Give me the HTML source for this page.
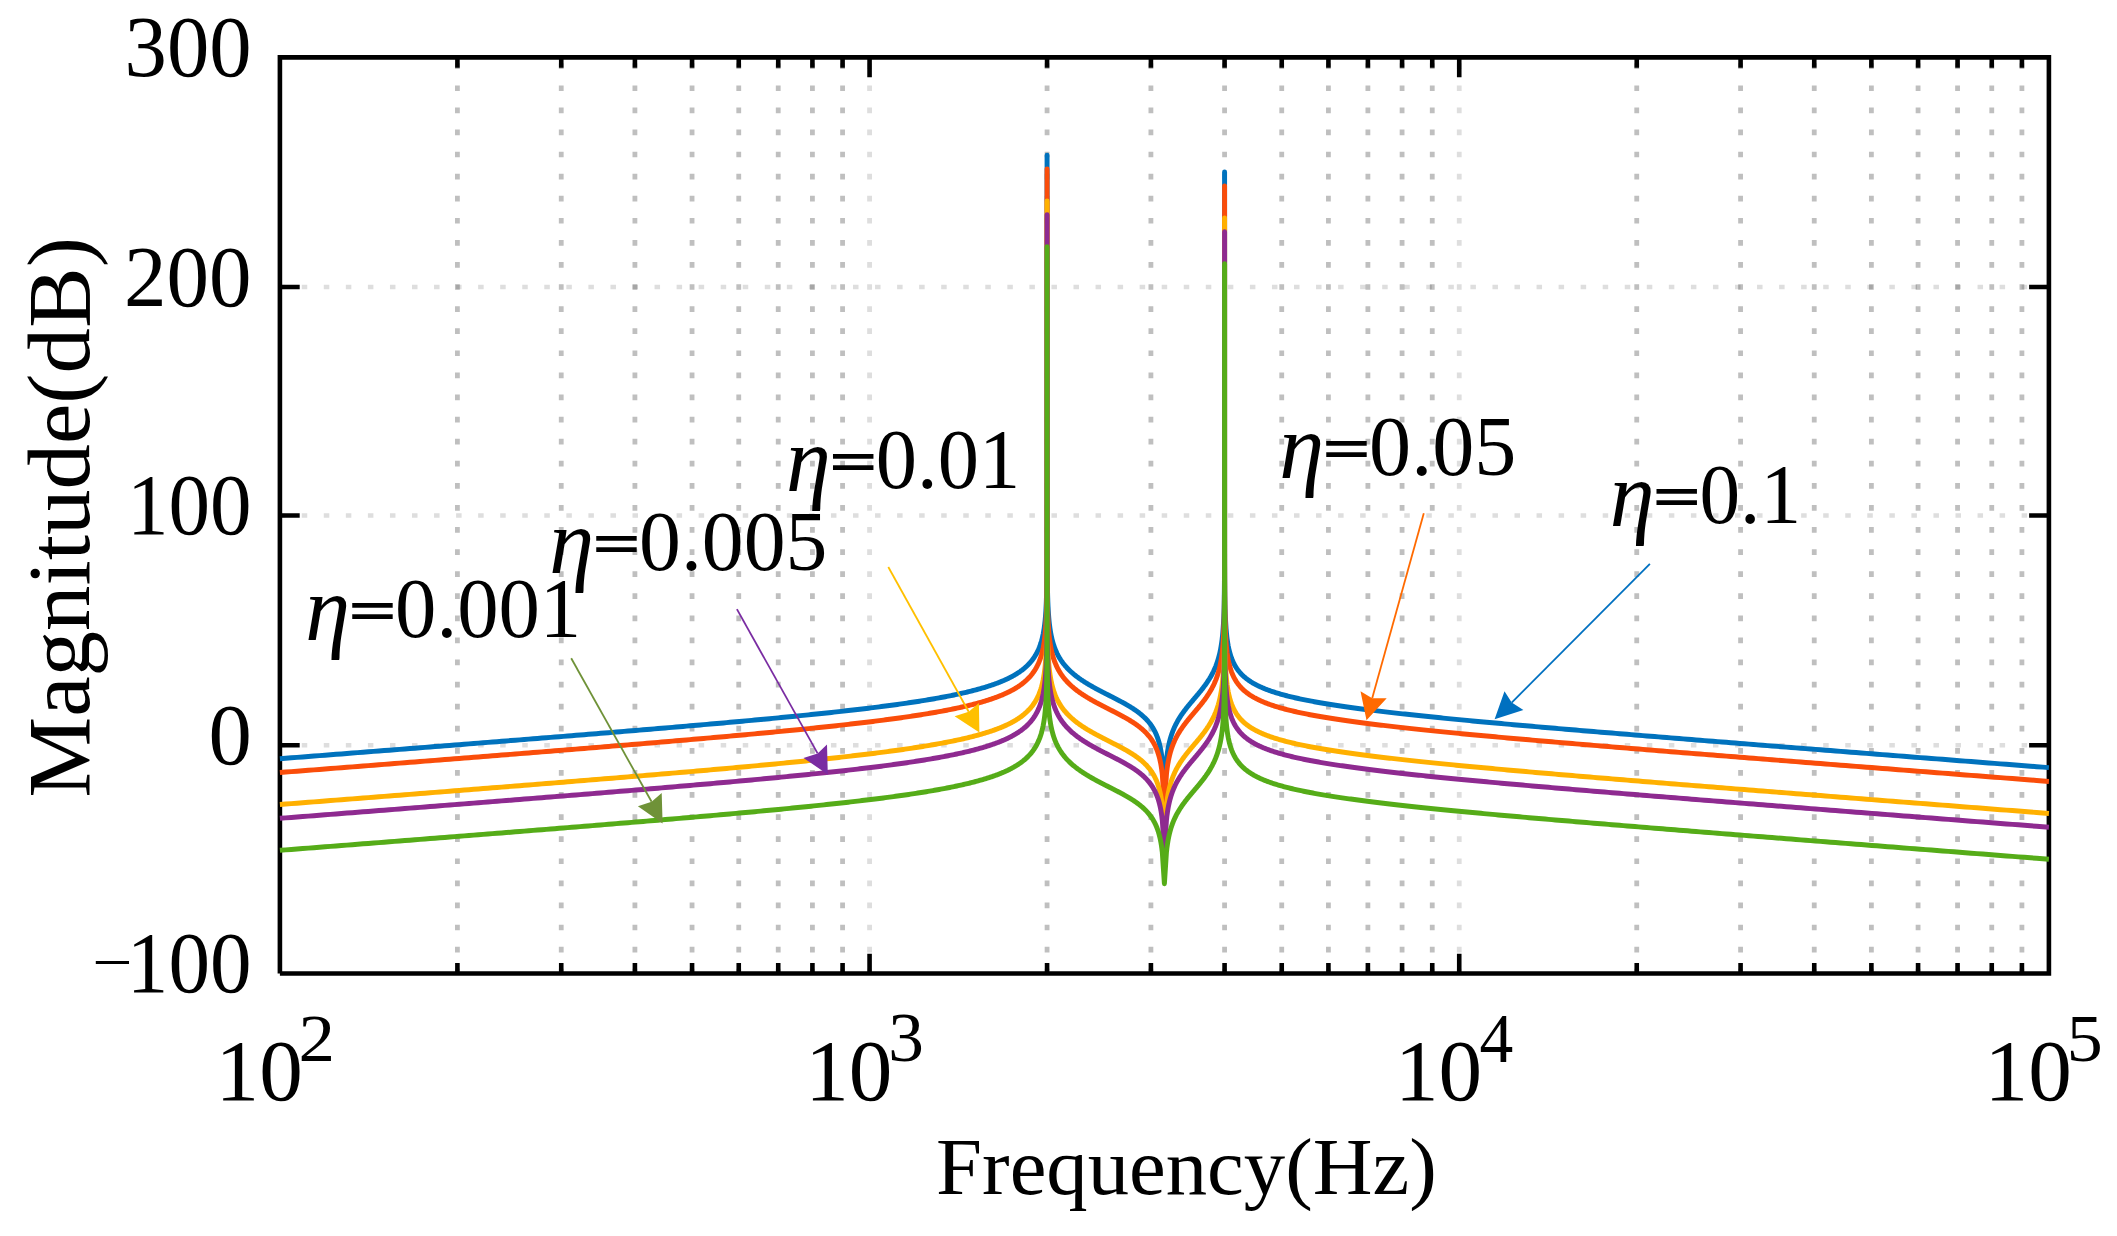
<!DOCTYPE html>
<html lang="en">
<head>
<meta charset="utf-8">
<title>Magnitude vs Frequency</title>
<style>
html,body{margin:0;padding:0;background:#fff;}
body{width:2117px;height:1236px;overflow:hidden;}
svg{display:block;}
text{font-family:"Liberation Serif",serif;fill:#000;}
</style>
</head>
<body>
<svg width="2117" height="1236" viewBox="0 0 2117 1236">
<rect width="2117" height="1236" fill="#fff"/>
<!-- grid -->
<g stroke-width="4.8" stroke-dasharray="5.7 16.385" fill="none">
<line x1="869.57" y1="974.50" x2="869.57" y2="57.40" stroke="#dedede"/>
<line x1="1459.23" y1="974.50" x2="1459.23" y2="57.40" stroke="#dedede"/>
<line x1="279.70" y1="287.00" x2="2048.90" y2="287.00" stroke="#dedede" stroke-width="4.4" stroke-dasharray="5.5 16.55"/>
<line x1="279.70" y1="515.55" x2="2048.90" y2="515.55" stroke="#dedede" stroke-width="4.4" stroke-dasharray="5.5 16.55"/>
<line x1="279.70" y1="745.20" x2="2048.90" y2="745.20" stroke="#dedede" stroke-width="4.4" stroke-dasharray="5.5 16.55"/>
<g style="mix-blend-mode:multiply">
<line x1="457.41" y1="974.50" x2="457.41" y2="57.40" stroke="#bfbfbf"/>
<line x1="561.24" y1="974.50" x2="561.24" y2="57.40" stroke="#bfbfbf"/>
<line x1="634.91" y1="974.50" x2="634.91" y2="57.40" stroke="#bfbfbf"/>
<line x1="692.06" y1="974.50" x2="692.06" y2="57.40" stroke="#bfbfbf"/>
<line x1="738.75" y1="974.50" x2="738.75" y2="57.40" stroke="#bfbfbf"/>
<line x1="778.23" y1="974.50" x2="778.23" y2="57.40" stroke="#bfbfbf"/>
<line x1="812.42" y1="974.50" x2="812.42" y2="57.40" stroke="#bfbfbf"/>
<line x1="842.58" y1="974.50" x2="842.58" y2="57.40" stroke="#bfbfbf"/>
<line x1="1047.07" y1="974.50" x2="1047.07" y2="57.40" stroke="#bfbfbf"/>
<line x1="1150.91" y1="974.50" x2="1150.91" y2="57.40" stroke="#bfbfbf"/>
<line x1="1224.58" y1="974.50" x2="1224.58" y2="57.40" stroke="#bfbfbf"/>
<line x1="1281.73" y1="974.50" x2="1281.73" y2="57.40" stroke="#bfbfbf"/>
<line x1="1328.42" y1="974.50" x2="1328.42" y2="57.40" stroke="#bfbfbf"/>
<line x1="1367.89" y1="974.50" x2="1367.89" y2="57.40" stroke="#bfbfbf"/>
<line x1="1402.09" y1="974.50" x2="1402.09" y2="57.40" stroke="#bfbfbf"/>
<line x1="1432.25" y1="974.50" x2="1432.25" y2="57.40" stroke="#bfbfbf"/>
<line x1="1636.74" y1="974.50" x2="1636.74" y2="57.40" stroke="#bfbfbf"/>
<line x1="1740.58" y1="974.50" x2="1740.58" y2="57.40" stroke="#bfbfbf"/>
<line x1="1814.25" y1="974.50" x2="1814.25" y2="57.40" stroke="#bfbfbf"/>
<line x1="1871.39" y1="974.50" x2="1871.39" y2="57.40" stroke="#bfbfbf"/>
<line x1="1918.08" y1="974.50" x2="1918.08" y2="57.40" stroke="#bfbfbf"/>
<line x1="1957.56" y1="974.50" x2="1957.56" y2="57.40" stroke="#bfbfbf"/>
<line x1="1991.76" y1="974.50" x2="1991.76" y2="57.40" stroke="#bfbfbf"/>
<line x1="2021.92" y1="974.50" x2="2021.92" y2="57.40" stroke="#bfbfbf"/>
</g></g>
<!-- axes box and ticks -->
<path d="M457.41 973.5 v-10.4 M457.41 57.4 v10.4 M561.24 973.5 v-10.4 M561.24 57.4 v10.4 M634.91 973.5 v-10.4 M634.91 57.4 v10.4 M692.06 973.5 v-10.4 M692.06 57.4 v10.4 M738.75 973.5 v-10.4 M738.75 57.4 v10.4 M778.23 973.5 v-10.4 M778.23 57.4 v10.4 M812.42 973.5 v-10.4 M812.42 57.4 v10.4 M842.58 973.5 v-10.4 M842.58 57.4 v10.4 M1047.07 973.5 v-10.4 M1047.07 57.4 v10.4 M1150.91 973.5 v-10.4 M1150.91 57.4 v10.4 M1224.58 973.5 v-10.4 M1224.58 57.4 v10.4 M1281.73 973.5 v-10.4 M1281.73 57.4 v10.4 M1328.42 973.5 v-10.4 M1328.42 57.4 v10.4 M1367.89 973.5 v-10.4 M1367.89 57.4 v10.4 M1402.09 973.5 v-10.4 M1402.09 57.4 v10.4 M1432.25 973.5 v-10.4 M1432.25 57.4 v10.4 M1636.74 973.5 v-10.4 M1636.74 57.4 v10.4 M1740.58 973.5 v-10.4 M1740.58 57.4 v10.4 M1814.25 973.5 v-10.4 M1814.25 57.4 v10.4 M1871.39 973.5 v-10.4 M1871.39 57.4 v10.4 M1918.08 973.5 v-10.4 M1918.08 57.4 v10.4 M1957.56 973.5 v-10.4 M1957.56 57.4 v10.4 M1991.76 973.5 v-10.4 M1991.76 57.4 v10.4 M2021.92 973.5 v-10.4 M2021.92 57.4 v10.4 M869.57 973.5 v-19.8 M869.57 57.4 v19.8 M1459.23 973.5 v-19.8 M1459.23 57.4 v19.8 M279.9 287.00 h19.8 M2048.9 287.00 h-19.8 M279.9 515.55 h19.8 M2048.9 515.55 h-19.8 M279.9 745.20 h19.8 M2048.9 745.20 h-19.8" stroke="#000" stroke-width="4.6" fill="none"/>
<path d="M279.9 973.5 V57.4 H2048.9 V973.5 H279.9" fill="none" stroke="#000" stroke-width="4.6" stroke-linejoin="miter" stroke-linecap="butt"/>
<!-- curves -->
<g fill="none" stroke-width="4.95" stroke-linejoin="round" stroke-linecap="butt">
<path d="M279.90 758.73 L285.64 758.28 L291.35 757.83 L297.03 757.39 L302.69 756.95 L308.31 756.51 L313.91 756.07 L319.48 755.64 L325.02 755.20 L330.53 754.77 L336.01 754.34 L341.47 753.92 L346.90 753.49 L352.29 753.07 L357.67 752.65 L363.01 752.23 L368.33 751.82 L373.62 751.40 L378.88 750.99 L384.11 750.58 L389.32 750.17 L394.50 749.76 L399.65 749.36 L404.77 748.96 L409.87 748.56 L414.94 748.16 L419.99 747.76 L425.00 747.37 L429.99 746.97 L434.96 746.58 L439.89 746.19 L444.80 745.81 L449.68 745.42 L454.54 745.04 L459.37 744.66 L464.18 744.28 L468.95 743.90 L473.71 743.52 L478.43 743.15 L483.13 742.77 L487.80 742.40 L492.45 742.03 L497.07 741.67 L501.67 741.30 L506.24 740.94 L510.78 740.58 L515.30 740.21 L519.80 739.86 L524.27 739.50 L528.71 739.14 L533.13 738.79 L537.52 738.44 L541.89 738.09 L546.23 737.74 L550.55 737.39 L554.84 737.05 L559.11 736.70 L563.35 736.36 L567.57 736.02 L571.76 735.68 L575.93 735.34 L580.08 735.00 L584.20 734.67 L588.29 734.34 L592.37 734.00 L596.41 733.67 L600.44 733.34 L604.44 733.02 L608.41 732.69 L612.37 732.37 L616.29 732.04 L620.20 731.72 L624.08 731.40 L627.94 731.08 L631.77 730.76 L635.58 730.45 L639.37 730.13 L643.13 729.82 L646.87 729.50 L650.59 729.19 L654.28 728.88 L657.95 728.57 L661.60 728.26 L665.22 727.96 L668.83 727.65 L672.41 727.35 L675.96 727.04 L679.50 726.74 L683.01 726.44 L686.50 726.14 L689.97 725.84 L693.41 725.54 L696.83 725.25 L700.23 724.95 L703.61 724.65 L706.97 724.36 L710.30 724.07 L713.62 723.78 L716.91 723.48 L720.18 723.19 L723.42 722.91 L726.65 722.62 L729.85 722.33 L733.04 722.04 L736.20 721.76 L739.34 721.47 L742.46 721.19 L745.55 720.91 L748.63 720.62 L751.69 720.34 L754.72 720.06 L757.73 719.78 L760.73 719.50 L763.70 719.22 L766.65 718.94 L769.58 718.67 L772.49 718.39 L775.38 718.11 L778.25 717.84 L781.10 717.56 L783.93 717.29 L786.74 717.01 L789.53 716.74 L792.30 716.47 L795.05 716.20 L797.78 715.92 L800.49 715.65 L803.18 715.38 L805.85 715.11 L808.50 714.84 L811.13 714.57 L813.74 714.30 L816.34 714.03 L818.91 713.76 L821.46 713.50 L824.00 713.23 L826.51 712.96 L829.01 712.69 L831.49 712.43 L833.95 712.16 L836.39 711.89 L838.81 711.62 L841.21 711.36 L843.60 711.09 L845.96 710.83 L848.31 710.56 L850.64 710.29 L852.95 710.03 L855.24 709.76 L857.52 709.50 L859.78 709.23 L862.01 708.97 L864.23 708.70 L866.44 708.43 L868.62 708.17 L870.79 707.90 L872.94 707.64 L875.07 707.37 L877.19 707.11 L879.28 706.84 L881.36 706.57 L883.43 706.31 L885.47 706.04 L887.50 705.77 L889.51 705.50 L891.51 705.24 L893.48 704.97 L895.45 704.70 L897.39 704.43 L899.32 704.16 L901.23 703.90 L903.12 703.63 L905.00 703.36 L906.86 703.09 L908.70 702.82 L910.53 702.54 L912.35 702.27 L914.14 702.00 L915.92 701.73 L917.69 701.45 L919.44 701.18 L921.17 700.91 L922.88 700.63 L924.59 700.36 L926.27 700.08 L927.94 699.80 L929.60 699.53 L931.24 699.25 L932.86 698.97 L934.47 698.69 L936.06 698.41 L937.64 698.13 L939.20 697.84 L940.75 697.56 L942.29 697.28 L943.80 696.99 L945.31 696.71 L946.80 696.42 L948.27 696.13 L949.73 695.84 L951.18 695.56 L952.61 695.26 L954.03 694.97 L955.43 694.68 L956.82 694.39 L958.19 694.09 L959.55 693.80 L960.90 693.50 L962.23 693.20 L963.55 692.90 L964.85 692.60 L966.15 692.30 L967.42 691.99 L968.69 691.69 L969.94 691.38 L971.18 691.07 L972.40 690.77 L973.61 690.45 L974.81 690.14 L975.99 689.83 L977.17 689.51 L978.32 689.20 L979.47 688.88 L980.60 688.56 L981.72 688.24 L982.83 687.92 L983.93 687.59 L985.01 687.26 L986.08 686.94 L987.14 686.61 L988.18 686.27 L989.21 685.94 L990.24 685.60 L991.24 685.27 L992.24 684.93 L993.23 684.58 L994.20 684.24 L995.16 683.90 L996.11 683.55 L997.05 683.20 L997.97 682.84 L998.89 682.49 L999.79 682.13 L1000.69 681.77 L1001.57 681.41 L1002.44 681.05 L1003.29 680.68 L1004.14 680.32 L1004.98 679.94 L1005.80 679.57 L1006.62 679.19 L1007.42 678.82 L1008.21 678.43 L1009.00 678.05 L1009.77 677.66 L1010.53 677.27 L1011.28 676.88 L1012.02 676.49 L1012.75 676.09 L1013.47 675.69 L1014.18 675.28 L1014.88 674.87 L1015.57 674.46 L1016.25 674.05 L1016.92 673.63 L1017.58 673.21 L1018.23 672.79 L1018.87 672.36 L1019.50 671.93 L1020.13 671.50 L1020.74 671.06 L1021.34 670.62 L1021.94 670.18 L1022.52 669.73 L1023.10 669.28 L1023.66 668.82 L1024.22 668.36 L1024.77 667.89 L1025.31 667.43 L1025.84 666.95 L1026.36 666.48 L1026.87 666.00 L1027.38 665.51 L1027.88 665.02 L1028.36 664.53 L1028.84 664.03 L1029.31 663.53 L1029.78 663.02 L1030.23 662.50 L1030.68 661.99 L1031.12 661.46 L1031.55 660.94 L1031.97 660.40 L1032.39 659.86 L1032.80 659.32 L1033.20 658.77 L1033.59 658.22 L1033.98 657.65 L1034.35 657.09 L1034.72 656.52 L1035.09 655.94 L1035.44 655.35 L1035.79 654.76 L1036.13 654.16 L1036.47 653.56 L1036.80 652.95 L1037.12 652.33 L1037.43 651.71 L1037.74 651.08 L1038.04 650.44 L1038.34 649.79 L1038.62 649.14 L1038.91 648.47 L1039.18 647.80 L1039.45 647.13 L1039.71 646.44 L1039.97 645.75 L1040.22 645.04 L1040.46 644.33 L1040.70 643.61 L1040.94 642.88 L1041.16 642.14 L1041.39 641.39 L1041.60 640.63 L1041.81 639.86 L1042.02 639.08 L1042.22 638.29 L1042.41 637.48 L1042.60 636.67 L1042.78 635.84 L1042.96 635.01 L1043.14 634.16 L1043.30 633.29 L1043.47 632.42 L1043.63 631.53 L1043.78 630.62 L1043.93 629.71 L1044.08 628.77 L1044.22 627.82 L1044.35 626.86 L1044.48 625.88 L1044.61 624.88 L1044.74 623.87 L1044.85 622.84 L1044.97 621.79 L1045.08 620.72 L1045.19 619.63 L1045.29 618.52 L1045.39 617.39 L1045.48 616.23 L1045.58 615.05 L1045.66 613.85 L1045.75 612.63 L1045.83 611.37 L1045.91 610.10 L1045.98 608.79 L1046.05 607.45 L1046.12 606.08 L1046.19 604.68 L1046.25 603.25 L1046.31 601.77 L1046.36 600.27 L1046.42 598.72 L1046.47 597.13 L1046.51 595.50 L1046.56 593.82 L1046.60 592.09 L1046.64 590.31 L1046.68 588.48 L1046.72 586.58 L1046.75 584.63 L1046.78 582.61 L1046.81 580.51 L1046.84 578.35 L1046.86 576.09 L1046.89 573.76 L1046.91 571.32 L1046.93 568.78 L1046.95 566.13 L1046.96 563.35 L1046.98 560.44 L1046.99 557.38 L1047.00 554.16 L1047.02 550.75 L1047.02 547.13 L1047.03 543.28 L1047.04 539.16 L1047.05 534.74 L1047.05 529.96 L1047.06 524.77 L1047.06 519.08 L1047.07 512.79 L1047.07 505.76 L1047.07 497.80 L1047.07 488.60 L1047.07 477.72 L1047.07 464.40 L1047.07 447.23 L1047.07 423.03 L1047.07 381.67 L1047.07 155.14 L1047.07 279.03 L1047.07 334.18 L1047.07 366.44 L1047.07 389.33 L1047.07 407.09 L1047.07 421.59 L1047.07 433.85 L1047.07 444.48 L1047.07 453.85 L1047.07 462.22 L1047.08 469.80 L1047.08 476.72 L1047.08 483.09 L1047.08 488.98 L1047.08 494.46 L1047.08 499.59 L1047.08 504.41 L1047.08 508.95 L1047.08 513.24 L1047.08 517.32 L1047.09 521.19 L1047.09 524.89 L1047.09 528.41 L1047.10 531.79 L1047.10 535.03 L1047.11 538.14 L1047.11 541.13 L1047.12 544.01 L1047.12 546.79 L1047.13 549.48 L1047.14 552.08 L1047.15 554.59 L1047.15 557.02 L1047.16 559.39 L1047.18 561.68 L1047.19 563.91 L1047.20 566.07 L1047.22 568.18 L1047.23 570.23 L1047.25 572.23 L1047.27 574.17 L1047.28 576.08 L1047.30 577.93 L1047.33 579.74 L1047.35 581.51 L1047.38 583.24 L1047.40 584.93 L1047.43 586.59 L1047.46 588.21 L1047.49 589.80 L1047.53 591.35 L1047.56 592.88 L1047.60 594.37 L1047.64 595.83 L1047.68 597.27 L1047.73 598.68 L1047.78 600.07 L1047.82 601.43 L1047.88 602.76 L1047.93 604.08 L1047.99 605.37 L1048.05 606.64 L1048.11 607.88 L1048.18 609.11 L1048.25 610.32 L1048.32 611.50 L1048.39 612.67 L1048.47 613.82 L1048.55 614.96 L1048.64 616.07 L1048.73 617.17 L1048.82 618.26 L1048.91 619.32 L1049.01 620.37 L1049.12 621.41 L1049.22 622.43 L1049.34 623.44 L1049.45 624.44 L1049.57 625.42 L1049.69 626.39 L1049.82 627.34 L1049.95 628.28 L1050.09 629.21 L1050.23 630.13 L1050.38 631.04 L1050.53 631.93 L1050.68 632.82 L1050.84 633.69 L1051.01 634.55 L1051.18 635.40 L1051.36 636.25 L1051.54 637.08 L1051.72 637.90 L1051.91 638.71 L1052.11 639.51 L1052.31 640.31 L1052.52 641.09 L1052.73 641.87 L1052.95 642.63 L1053.17 643.39 L1053.40 644.14 L1053.64 644.88 L1053.88 645.62 L1054.13 646.34 L1054.38 647.06 L1054.64 647.77 L1054.91 648.47 L1055.18 649.17 L1055.46 649.86 L1055.75 650.54 L1056.04 651.22 L1056.33 651.88 L1056.64 652.54 L1056.95 653.20 L1057.26 653.85 L1057.59 654.49 L1057.92 655.12 L1058.25 655.75 L1058.60 656.38 L1058.95 656.99 L1059.30 657.60 L1059.67 658.21 L1060.04 658.81 L1060.41 659.40 L1060.80 659.99 L1061.19 660.58 L1061.58 661.16 L1061.99 661.73 L1062.40 662.30 L1062.82 662.86 L1063.24 663.42 L1063.67 663.97 L1064.11 664.52 L1064.55 665.06 L1065.00 665.60 L1065.46 666.14 L1065.93 666.67 L1066.40 667.19 L1066.88 667.71 L1067.36 668.23 L1067.85 668.74 L1068.35 669.25 L1068.85 669.75 L1069.36 670.25 L1069.88 670.75 L1070.40 671.24 L1070.93 671.73 L1071.47 672.22 L1072.01 672.70 L1072.56 673.18 L1073.11 673.65 L1073.67 674.12 L1074.24 674.59 L1074.81 675.05 L1075.39 675.51 L1075.98 675.97 L1076.56 676.42 L1077.16 676.88 L1077.76 677.32 L1078.37 677.77 L1078.98 678.21 L1079.60 678.65 L1080.22 679.08 L1080.84 679.52 L1081.48 679.95 L1082.11 680.38 L1082.75 680.80 L1083.40 681.22 L1084.05 681.64 L1084.70 682.06 L1085.36 682.48 L1086.03 682.89 L1086.69 683.30 L1087.37 683.71 L1088.04 684.12 L1088.72 684.52 L1089.40 684.92 L1090.09 685.32 L1090.77 685.72 L1091.47 686.12 L1092.16 686.51 L1092.86 686.90 L1093.56 687.29 L1094.26 687.68 L1094.97 688.07 L1095.68 688.46 L1096.38 688.84 L1097.10 689.22 L1097.81 689.60 L1098.53 689.99 L1099.24 690.36 L1099.96 690.74 L1100.68 691.12 L1101.40 691.49 L1102.12 691.87 L1102.84 692.24 L1103.57 692.61 L1104.29 692.99 L1105.01 693.36 L1105.74 693.73 L1106.46 694.10 L1107.18 694.46 L1107.91 694.83 L1108.63 695.20 L1109.35 695.57 L1110.07 695.93 L1110.79 696.30 L1111.51 696.67 L1112.23 697.03 L1112.95 697.40 L1113.66 697.76 L1114.38 698.13 L1115.09 698.50 L1115.80 698.86 L1116.51 699.23 L1117.21 699.60 L1117.91 699.96 L1118.61 700.33 L1119.31 700.70 L1120.01 701.07 L1120.70 701.44 L1121.39 701.81 L1122.07 702.18 L1122.76 702.55 L1123.43 702.92 L1124.11 703.29 L1124.78 703.67 L1125.45 704.04 L1126.11 704.42 L1126.77 704.80 L1127.42 705.18 L1128.07 705.56 L1128.72 705.94 L1129.36 706.33 L1130.00 706.71 L1130.63 707.10 L1131.26 707.49 L1131.88 707.88 L1132.50 708.28 L1133.11 708.67 L1133.71 709.07 L1134.31 709.47 L1134.91 709.87 L1135.50 710.28 L1136.08 710.69 L1136.66 711.10 L1137.23 711.51 L1137.80 711.93 L1138.36 712.35 L1138.91 712.77 L1139.46 713.19 L1140.01 713.62 L1140.54 714.05 L1141.07 714.49 L1141.59 714.93 L1142.11 715.37 L1142.62 715.82 L1143.13 716.26 L1143.62 716.72 L1144.11 717.18 L1144.60 717.64 L1145.08 718.10 L1145.55 718.57 L1146.01 719.05 L1146.47 719.53 L1146.92 720.01 L1147.37 720.50 L1147.80 720.99 L1148.23 721.49 L1148.66 721.99 L1149.08 722.50 L1149.49 723.01 L1149.89 723.53 L1150.29 724.06 L1150.68 724.59 L1151.06 725.12 L1151.44 725.66 L1151.81 726.21 L1152.17 726.76 L1152.53 727.32 L1152.88 727.89 L1153.22 728.46 L1153.56 729.04 L1153.89 729.62 L1154.21 730.21 L1154.53 730.81 L1154.84 731.42 L1155.14 732.03 L1155.44 732.65 L1155.73 733.28 L1156.01 733.92 L1156.29 734.56 L1156.56 735.21 L1156.83 735.87 L1157.09 736.54 L1157.34 737.21 L1157.59 737.89 L1157.83 738.59 L1158.07 739.29 L1158.30 740.00 L1158.52 740.72 L1158.74 741.45 L1158.96 742.18 L1159.16 742.93 L1159.37 743.69 L1159.56 744.46 L1159.75 745.23 L1159.94 746.02 L1160.12 746.82 L1160.29 747.63 L1160.46 748.45 L1160.63 749.28 L1160.79 750.12 L1160.95 750.98 L1161.10 751.85 L1161.24 752.72 L1161.38 753.62 L1161.52 754.52 L1161.65 755.44 L1161.78 756.37 L1161.90 757.31 L1162.02 758.27 L1162.14 759.24 L1162.25 760.23 L1162.36 761.23 L1164.40 792.05 L1164.40 792.05 L1164.40 792.05 L1164.40 792.05 L1166.42 760.84 L1166.51 759.98 L1166.60 759.14 L1166.69 758.30 L1166.78 757.47 L1166.88 756.65 L1166.98 755.85 L1167.09 755.05 L1167.19 754.25 L1167.30 753.47 L1167.41 752.70 L1167.53 751.93 L1167.65 751.17 L1167.77 750.42 L1167.89 749.68 L1168.02 748.95 L1168.15 748.22 L1168.28 747.50 L1168.42 746.79 L1168.56 746.08 L1168.70 745.39 L1168.85 744.69 L1169.00 744.01 L1169.15 743.33 L1169.31 742.66 L1169.46 741.99 L1169.63 741.33 L1169.79 740.68 L1169.96 740.03 L1170.14 739.39 L1170.31 738.75 L1170.49 738.12 L1170.67 737.50 L1170.86 736.88 L1171.05 736.26 L1171.24 735.65 L1171.44 735.05 L1171.64 734.45 L1171.84 733.85 L1172.05 733.26 L1172.26 732.68 L1172.47 732.10 L1172.69 731.52 L1172.91 730.95 L1173.14 730.38 L1173.37 729.82 L1173.60 729.26 L1173.83 728.71 L1174.07 728.16 L1174.31 727.61 L1174.56 727.07 L1174.81 726.53 L1175.06 725.99 L1175.31 725.46 L1175.57 724.93 L1175.83 724.40 L1176.10 723.88 L1176.37 723.36 L1176.64 722.85 L1176.91 722.34 L1177.19 721.83 L1177.47 721.32 L1177.76 720.82 L1178.04 720.32 L1178.33 719.82 L1178.63 719.32 L1178.93 718.83 L1179.22 718.34 L1179.53 717.85 L1179.83 717.37 L1180.14 716.89 L1180.45 716.41 L1180.77 715.93 L1181.08 715.45 L1181.40 714.98 L1181.72 714.51 L1182.05 714.04 L1182.37 713.57 L1182.70 713.11 L1183.03 712.64 L1183.37 712.18 L1183.70 711.72 L1184.04 711.26 L1184.38 710.80 L1184.72 710.35 L1185.07 709.89 L1185.41 709.44 L1185.76 708.99 L1186.11 708.54 L1186.46 708.09 L1186.82 707.64 L1187.17 707.19 L1187.53 706.75 L1187.89 706.30 L1188.24 705.86 L1188.60 705.41 L1188.97 704.97 L1189.33 704.53 L1189.69 704.09 L1190.06 703.65 L1190.42 703.21 L1190.79 702.77 L1191.16 702.33 L1191.53 701.89 L1191.90 701.45 L1192.27 701.02 L1192.64 700.58 L1193.01 700.14 L1193.38 699.70 L1193.75 699.26 L1194.12 698.83 L1194.49 698.39 L1194.86 697.95 L1195.23 697.51 L1195.60 697.08 L1195.97 696.64 L1196.35 696.20 L1196.72 695.76 L1197.08 695.32 L1197.45 694.88 L1197.82 694.44 L1198.19 694.00 L1198.56 693.56 L1198.92 693.11 L1199.29 692.67 L1199.65 692.23 L1200.01 691.78 L1200.38 691.34 L1200.74 690.89 L1201.10 690.44 L1201.45 689.99 L1201.81 689.54 L1202.17 689.09 L1202.52 688.64 L1202.87 688.18 L1203.22 687.73 L1203.57 687.27 L1203.91 686.81 L1204.26 686.35 L1204.60 685.89 L1204.94 685.43 L1205.28 684.96 L1205.62 684.50 L1205.95 684.03 L1206.28 683.56 L1206.61 683.09 L1206.94 682.61 L1207.26 682.14 L1207.58 681.66 L1207.90 681.18 L1208.22 680.69 L1208.53 680.21 L1208.84 679.72 L1209.15 679.23 L1209.45 678.74 L1209.76 678.25 L1210.06 677.75 L1210.35 677.25 L1210.65 676.75 L1210.94 676.24 L1211.22 675.73 L1211.51 675.22 L1211.79 674.71 L1212.07 674.19 L1212.34 673.67 L1212.61 673.14 L1212.88 672.62 L1213.15 672.09 L1213.41 671.55 L1213.67 671.02 L1213.92 670.48 L1214.18 669.93 L1214.42 669.38 L1214.67 668.83 L1214.91 668.28 L1215.15 667.72 L1215.38 667.16 L1215.62 666.59 L1215.84 666.02 L1216.07 665.44 L1216.29 664.86 L1216.51 664.28 L1216.72 663.69 L1216.93 663.10 L1217.14 662.50 L1217.34 661.90 L1217.54 661.29 L1217.74 660.68 L1217.93 660.06 L1218.12 659.44 L1218.31 658.81 L1218.49 658.18 L1218.67 657.54 L1218.85 656.90 L1219.02 656.25 L1219.19 655.59 L1219.35 654.93 L1219.52 654.26 L1219.68 653.59 L1219.83 652.91 L1219.98 652.23 L1220.13 651.54 L1220.28 650.84 L1220.42 650.13 L1220.56 649.42 L1220.70 648.70 L1220.83 647.98 L1220.96 647.25 L1221.09 646.51 L1221.21 645.76 L1221.33 645.00 L1221.45 644.24 L1221.57 643.47 L1221.68 642.69 L1221.79 641.90 L1221.90 641.11 L1222.00 640.30 L1222.10 639.49 L1222.20 638.66 L1222.29 637.83 L1222.39 636.99 L1222.48 636.14 L1222.56 635.28 L1222.65 634.41 L1222.73 633.52 L1222.81 632.63 L1222.89 631.73 L1222.96 630.81 L1223.03 629.89 L1223.10 628.95 L1223.17 628.00 L1223.24 627.04 L1223.30 626.06 L1223.36 625.08 L1223.42 624.08 L1223.48 623.06 L1223.53 622.03 L1223.59 620.99 L1223.64 619.93 L1223.69 618.86 L1223.73 617.77 L1223.78 616.67 L1223.82 615.55 L1223.86 614.41 L1223.90 613.25 L1223.94 612.08 L1223.98 610.89 L1224.02 609.68 L1224.05 608.45 L1224.08 607.20 L1224.11 605.93 L1224.14 604.63 L1224.17 603.32 L1224.20 601.98 L1224.22 600.61 L1224.25 599.23 L1224.27 597.81 L1224.29 596.37 L1224.31 594.91 L1224.33 593.41 L1224.35 591.88 L1224.37 590.33 L1224.38 588.74 L1224.40 587.12 L1224.41 585.46 L1224.43 583.77 L1224.44 582.03 L1224.45 580.26 L1224.46 578.45 L1224.47 576.59 L1224.48 574.69 L1224.49 572.74 L1224.50 570.75 L1224.51 568.69 L1224.52 566.59 L1224.52 564.42 L1224.53 562.19 L1224.53 559.90 L1224.54 557.54 L1224.54 555.10 L1224.55 552.59 L1224.55 549.99 L1224.56 547.30 L1224.56 544.52 L1224.56 541.64 L1224.57 538.65 L1224.57 535.54 L1224.57 532.30 L1224.57 528.92 L1224.57 525.39 L1224.57 521.70 L1224.58 517.83 L1224.58 513.75 L1224.58 509.46 L1224.58 504.92 L1224.58 500.10 L1224.58 494.97 L1224.58 489.49 L1224.58 483.60 L1224.58 477.23 L1224.58 470.31 L1224.58 462.73 L1224.58 454.35 L1224.58 444.98 L1224.58 434.36 L1224.58 422.10 L1224.58 407.59 L1224.58 389.84 L1224.58 366.95 L1224.58 334.69 L1224.58 279.53 L1224.58 172.08 L1224.58 396.88 L1224.58 438.25 L1224.58 462.45 L1224.58 479.62 L1224.58 492.93 L1224.58 503.81 L1224.59 513.01 L1224.59 520.98 L1224.59 528.01 L1224.59 534.30 L1224.60 539.98 L1224.60 545.18 L1224.61 549.95 L1224.62 554.37 L1224.62 558.49 L1224.63 562.34 L1224.64 565.95 L1224.66 569.36 L1224.67 572.59 L1224.68 575.64 L1224.70 578.55 L1224.72 581.33 L1224.74 583.97 L1224.76 586.51 L1224.78 588.94 L1224.81 591.28 L1224.83 593.52 L1224.86 595.69 L1224.90 597.78 L1224.93 599.79 L1224.97 601.74 L1225.00 603.63 L1225.04 605.46 L1225.09 607.23 L1225.13 608.95 L1225.18 610.62 L1225.23 612.25 L1225.29 613.83 L1225.35 615.36 L1225.41 616.86 L1225.47 618.32 L1225.54 619.75 L1225.61 621.14 L1225.68 622.50 L1225.76 623.82 L1225.84 625.12 L1225.92 626.38 L1226.01 627.62 L1226.10 628.83 L1226.19 630.02 L1226.29 631.18 L1226.39 632.32 L1226.50 633.44 L1226.61 634.53 L1226.72 635.60 L1226.84 636.66 L1226.97 637.69 L1227.09 638.70 L1227.23 639.70 L1227.36 640.67 L1227.50 641.63 L1227.65 642.57 L1227.80 643.50 L1227.96 644.41 L1228.12 645.30 L1228.28 646.18 L1228.46 647.05 L1228.63 647.90 L1228.81 648.74 L1229.00 649.56 L1229.19 650.37 L1229.39 651.17 L1229.59 651.95 L1229.80 652.73 L1230.02 653.49 L1230.24 654.24 L1230.46 654.98 L1230.69 655.71 L1230.93 656.42 L1231.18 657.13 L1231.43 657.83 L1231.68 658.52 L1231.95 659.19 L1232.22 659.86 L1232.49 660.52 L1232.77 661.17 L1233.06 661.81 L1233.36 662.44 L1233.66 663.06 L1233.97 663.68 L1234.29 664.29 L1234.61 664.88 L1234.94 665.48 L1235.28 666.06 L1235.62 666.63 L1235.98 667.20 L1236.34 667.76 L1236.70 668.32 L1237.08 668.86 L1237.46 669.40 L1237.85 669.94 L1238.25 670.46 L1238.66 670.99 L1239.07 671.50 L1239.49 672.01 L1239.92 672.51 L1240.36 673.01 L1240.81 673.50 L1241.26 673.98 L1241.72 674.46 L1242.20 674.93 L1242.68 675.40 L1243.17 675.86 L1243.66 676.32 L1244.17 676.77 L1244.69 677.22 L1245.21 677.66 L1245.74 678.10 L1246.29 678.53 L1246.84 678.96 L1247.40 679.38 L1247.97 679.80 L1248.55 680.22 L1249.14 680.63 L1249.74 681.04 L1250.35 681.44 L1250.96 681.84 L1251.59 682.23 L1252.23 682.62 L1252.88 683.01 L1253.54 683.39 L1254.20 683.77 L1254.88 684.14 L1255.57 684.51 L1256.27 684.88 L1256.98 685.25 L1257.70 685.61 L1258.43 685.97 L1259.17 686.32 L1259.92 686.67 L1260.69 687.02 L1261.46 687.37 L1262.25 687.71 L1263.04 688.05 L1263.85 688.39 L1264.67 688.72 L1265.49 689.06 L1266.34 689.38 L1267.19 689.71 L1268.05 690.03 L1268.93 690.36 L1269.81 690.68 L1270.71 690.99 L1271.62 691.31 L1272.54 691.62 L1273.48 691.93 L1274.43 692.23 L1275.38 692.54 L1276.35 692.84 L1277.34 693.14 L1278.33 693.44 L1279.34 693.74 L1280.36 694.04 L1281.39 694.33 L1282.44 694.62 L1283.50 694.91 L1284.57 695.20 L1285.65 695.49 L1286.75 695.77 L1287.86 696.05 L1288.98 696.34 L1290.12 696.62 L1291.27 696.89 L1292.43 697.17 L1293.61 697.45 L1294.80 697.72 L1296.00 698.00 L1297.22 698.27 L1298.45 698.54 L1299.70 698.81 L1300.96 699.08 L1302.23 699.34 L1303.52 699.61 L1304.82 699.87 L1306.13 700.14 L1307.46 700.40 L1308.81 700.66 L1310.16 700.92 L1311.54 701.18 L1312.93 701.44 L1314.33 701.70 L1315.74 701.96 L1317.18 702.21 L1318.62 702.47 L1320.08 702.72 L1321.56 702.98 L1323.05 703.23 L1324.56 703.49 L1326.08 703.74 L1327.62 703.99 L1329.17 704.24 L1330.74 704.49 L1332.33 704.74 L1333.93 704.99 L1335.54 705.24 L1337.18 705.49 L1338.82 705.74 L1340.49 705.98 L1342.17 706.23 L1343.86 706.48 L1345.58 706.73 L1347.30 706.97 L1349.05 707.22 L1350.81 707.46 L1352.59 707.71 L1354.38 707.95 L1356.19 708.20 L1358.02 708.45 L1359.87 708.69 L1361.73 708.93 L1363.61 709.18 L1365.50 709.42 L1367.41 709.67 L1369.34 709.91 L1371.29 710.16 L1373.26 710.40 L1375.24 710.65 L1377.24 710.89 L1379.26 711.14 L1381.29 711.38 L1383.35 711.63 L1385.42 711.87 L1387.50 712.12 L1389.61 712.36 L1391.74 712.61 L1393.88 712.85 L1396.04 713.10 L1398.22 713.34 L1400.42 713.59 L1402.63 713.84 L1404.87 714.08 L1407.12 714.33 L1409.39 714.58 L1411.69 714.83 L1414.00 715.07 L1416.32 715.32 L1418.67 715.57 L1421.04 715.82 L1423.43 716.07 L1425.83 716.32 L1428.26 716.57 L1430.70 716.82 L1433.16 717.08 L1435.65 717.33 L1438.15 717.58 L1440.67 717.83 L1443.21 718.09 L1445.78 718.34 L1448.36 718.60 L1450.96 718.85 L1453.58 719.11 L1456.22 719.37 L1458.89 719.62 L1461.57 719.88 L1464.27 720.14 L1467.00 720.40 L1469.74 720.66 L1472.51 720.92 L1475.29 721.19 L1478.10 721.45 L1480.93 721.71 L1483.77 721.98 L1486.64 722.24 L1489.53 722.51 L1492.44 722.77 L1495.38 723.04 L1498.33 723.31 L1501.31 723.58 L1504.30 723.85 L1507.32 724.12 L1510.36 724.40 L1513.42 724.67 L1516.51 724.94 L1519.61 725.22 L1522.74 725.50 L1525.89 725.77 L1529.06 726.05 L1532.26 726.33 L1535.47 726.61 L1538.71 726.89 L1541.97 727.18 L1545.26 727.46 L1548.56 727.75 L1551.89 728.03 L1555.24 728.32 L1558.62 728.61 L1562.01 728.90 L1565.43 729.19 L1568.87 729.48 L1572.34 729.77 L1575.83 730.07 L1579.34 730.37 L1582.88 730.66 L1586.44 730.96 L1590.02 731.26 L1593.63 731.56 L1597.26 731.87 L1600.91 732.17 L1604.59 732.48 L1608.29 732.78 L1612.01 733.09 L1615.76 733.40 L1619.54 733.71 L1623.33 734.02 L1627.16 734.34 L1631.00 734.65 L1634.87 734.97 L1638.77 735.29 L1642.69 735.61 L1646.63 735.93 L1650.60 736.25 L1654.60 736.58 L1658.61 736.90 L1662.66 737.23 L1666.73 737.56 L1670.82 737.89 L1674.94 738.22 L1679.08 738.56 L1683.25 738.89 L1687.45 739.23 L1691.67 739.57 L1695.92 739.91 L1700.19 740.25 L1704.49 740.60 L1708.81 740.94 L1713.16 741.29 L1717.53 741.64 L1721.93 741.99 L1726.36 742.34 L1730.82 742.70 L1735.30 743.05 L1739.80 743.41 L1744.33 743.77 L1748.89 744.13 L1753.48 744.50 L1758.09 744.86 L1762.73 745.23 L1767.40 745.60 L1772.09 745.97 L1776.81 746.34 L1781.56 746.72 L1786.33 747.10 L1791.13 747.47 L1795.96 747.85 L1800.82 748.24 L1805.70 748.62 L1810.61 749.01 L1815.55 749.40 L1820.52 749.79 L1825.51 750.18 L1830.53 750.57 L1835.58 750.97 L1840.66 751.37 L1845.76 751.77 L1850.90 752.17 L1856.06 752.58 L1861.25 752.98 L1866.47 753.39 L1871.72 753.80 L1876.99 754.22 L1882.30 754.63 L1887.63 755.05 L1892.99 755.47 L1898.38 755.89 L1903.80 756.31 L1909.25 756.74 L1914.72 757.17 L1920.23 757.60 L1925.77 758.03 L1931.33 758.46 L1936.93 758.90 L1942.55 759.34 L1948.20 759.78 L1953.89 760.22 L1959.60 760.67 L1965.34 761.12 L1971.11 761.57 L1976.91 762.02 L1982.75 762.47 L1988.61 762.93 L1994.50 763.39 L2000.42 763.85 L2006.38 764.32 L2012.36 764.78 L2018.37 765.25 L2024.42 765.72 L2030.49 766.19 L2036.60 766.67 L2042.73 767.15 L2048.90 767.63" stroke="#0072BD"/>
<path d="M279.90 772.52 L285.64 772.07 L291.35 771.62 L297.03 771.18 L302.69 770.74 L308.31 770.30 L313.91 769.86 L319.48 769.43 L325.02 768.99 L330.53 768.56 L336.01 768.13 L341.47 767.71 L346.90 767.28 L352.29 766.86 L357.67 766.44 L363.01 766.02 L368.33 765.60 L373.62 765.19 L378.88 764.78 L384.11 764.37 L389.32 763.96 L394.50 763.55 L399.65 763.15 L404.77 762.75 L409.87 762.34 L414.94 761.95 L419.99 761.55 L425.00 761.15 L429.99 760.76 L434.96 760.37 L439.89 759.98 L444.80 759.59 L449.68 759.21 L454.54 758.83 L459.37 758.44 L464.18 758.06 L468.95 757.69 L473.71 757.31 L478.43 756.94 L483.13 756.56 L487.80 756.19 L492.45 755.82 L497.07 755.46 L501.67 755.09 L506.24 754.73 L510.78 754.36 L515.30 754.00 L519.80 753.64 L524.27 753.29 L528.71 752.93 L533.13 752.58 L537.52 752.23 L541.89 751.88 L546.23 751.53 L550.55 751.18 L554.84 750.83 L559.11 750.49 L563.35 750.15 L567.57 749.81 L571.76 749.47 L575.93 749.13 L580.08 748.79 L584.20 748.46 L588.29 748.12 L592.37 747.79 L596.41 747.46 L600.44 747.13 L604.44 746.81 L608.41 746.48 L612.37 746.15 L616.29 745.83 L620.20 745.51 L624.08 745.19 L627.94 744.87 L631.77 744.55 L635.58 744.23 L639.37 743.92 L643.13 743.60 L646.87 743.29 L650.59 742.98 L654.28 742.67 L657.95 742.36 L661.60 742.05 L665.22 741.74 L668.83 741.44 L672.41 741.13 L675.96 740.83 L679.50 740.53 L683.01 740.23 L686.50 739.93 L689.97 739.63 L693.41 739.33 L696.83 739.03 L700.23 738.74 L703.61 738.44 L706.97 738.15 L710.30 737.86 L713.62 737.56 L716.91 737.27 L720.18 736.98 L723.42 736.69 L726.65 736.41 L729.85 736.12 L733.04 735.83 L736.20 735.55 L739.34 735.26 L742.46 734.98 L745.55 734.69 L748.63 734.41 L751.69 734.13 L754.72 733.85 L757.73 733.57 L760.73 733.29 L763.70 733.01 L766.65 732.73 L769.58 732.46 L772.49 732.18 L775.38 731.90 L778.25 731.63 L781.10 731.35 L783.93 731.08 L786.74 730.80 L789.53 730.53 L792.30 730.26 L795.05 729.98 L797.78 729.71 L800.49 729.44 L803.18 729.17 L805.85 728.90 L808.50 728.63 L811.13 728.36 L813.74 728.09 L816.34 727.82 L818.91 727.55 L821.46 727.28 L824.00 727.02 L826.51 726.75 L829.01 726.48 L831.49 726.21 L833.95 725.95 L836.39 725.68 L838.81 725.41 L841.21 725.15 L843.60 724.88 L845.96 724.61 L848.31 724.35 L850.64 724.08 L852.95 723.82 L855.24 723.55 L857.52 723.29 L859.78 723.02 L862.01 722.75 L864.23 722.49 L866.44 722.22 L868.62 721.96 L870.79 721.69 L872.94 721.43 L875.07 721.16 L877.19 720.89 L879.28 720.63 L881.36 720.36 L883.43 720.09 L885.47 719.83 L887.50 719.56 L889.51 719.29 L891.51 719.03 L893.48 718.76 L895.45 718.49 L897.39 718.22 L899.32 717.95 L901.23 717.68 L903.12 717.41 L905.00 717.14 L906.86 716.87 L908.70 716.60 L910.53 716.33 L912.35 716.06 L914.14 715.79 L915.92 715.52 L917.69 715.24 L919.44 714.97 L921.17 714.70 L922.88 714.42 L924.59 714.14 L926.27 713.87 L927.94 713.59 L929.60 713.31 L931.24 713.04 L932.86 712.76 L934.47 712.48 L936.06 712.20 L937.64 711.92 L939.20 711.63 L940.75 711.35 L942.29 711.07 L943.80 710.78 L945.31 710.50 L946.80 710.21 L948.27 709.92 L949.73 709.63 L951.18 709.34 L952.61 709.05 L954.03 708.76 L955.43 708.47 L956.82 708.18 L958.19 707.88 L959.55 707.58 L960.90 707.29 L962.23 706.99 L963.55 706.69 L964.85 706.39 L966.15 706.09 L967.42 705.78 L968.69 705.48 L969.94 705.17 L971.18 704.86 L972.40 704.55 L973.61 704.24 L974.81 703.93 L975.99 703.62 L977.17 703.30 L978.32 702.99 L979.47 702.67 L980.60 702.35 L981.72 702.03 L982.83 701.70 L983.93 701.38 L985.01 701.05 L986.08 700.72 L987.14 700.39 L988.18 700.06 L989.21 699.73 L990.24 699.39 L991.24 699.05 L992.24 698.71 L993.23 698.37 L994.20 698.03 L995.16 697.68 L996.11 697.34 L997.05 696.99 L997.97 696.63 L998.89 696.28 L999.79 695.92 L1000.69 695.56 L1001.57 695.20 L1002.44 694.84 L1003.29 694.47 L1004.14 694.10 L1004.98 693.73 L1005.80 693.36 L1006.62 692.98 L1007.42 692.60 L1008.21 692.22 L1009.00 691.84 L1009.77 691.45 L1010.53 691.06 L1011.28 690.67 L1012.02 690.27 L1012.75 689.88 L1013.47 689.48 L1014.18 689.07 L1014.88 688.66 L1015.57 688.25 L1016.25 687.84 L1016.92 687.42 L1017.58 687.00 L1018.23 686.58 L1018.87 686.15 L1019.50 685.72 L1020.13 685.29 L1020.74 684.85 L1021.34 684.41 L1021.94 683.96 L1022.52 683.52 L1023.10 683.06 L1023.66 682.61 L1024.22 682.15 L1024.77 681.68 L1025.31 681.22 L1025.84 680.74 L1026.36 680.27 L1026.87 679.79 L1027.38 679.30 L1027.88 678.81 L1028.36 678.32 L1028.84 677.82 L1029.31 677.31 L1029.78 676.81 L1030.23 676.29 L1030.68 675.78 L1031.12 675.25 L1031.55 674.72 L1031.97 674.19 L1032.39 673.65 L1032.80 673.11 L1033.20 672.56 L1033.59 672.00 L1033.98 671.44 L1034.35 670.88 L1034.72 670.30 L1035.09 669.73 L1035.44 669.14 L1035.79 668.55 L1036.13 667.95 L1036.47 667.35 L1036.80 666.74 L1037.12 666.12 L1037.43 665.50 L1037.74 664.86 L1038.04 664.22 L1038.34 663.58 L1038.62 662.92 L1038.91 662.26 L1039.18 661.59 L1039.45 660.92 L1039.71 660.23 L1039.97 659.53 L1040.22 658.83 L1040.46 658.12 L1040.70 657.40 L1040.94 656.67 L1041.16 655.93 L1041.39 655.18 L1041.60 654.42 L1041.81 653.65 L1042.02 652.87 L1042.22 652.08 L1042.41 651.27 L1042.60 650.46 L1042.78 649.63 L1042.96 648.79 L1043.14 647.94 L1043.30 647.08 L1043.47 646.20 L1043.63 645.32 L1043.78 644.41 L1043.93 643.49 L1044.08 642.56 L1044.22 641.61 L1044.35 640.65 L1044.48 639.67 L1044.61 638.67 L1044.74 637.66 L1044.85 636.63 L1044.97 635.58 L1045.08 634.51 L1045.19 633.42 L1045.29 632.31 L1045.39 631.17 L1045.48 630.02 L1045.58 628.84 L1045.66 627.64 L1045.75 626.42 L1045.83 625.16 L1045.91 623.88 L1045.98 622.58 L1046.05 621.24 L1046.12 619.87 L1046.19 618.47 L1046.25 617.03 L1046.31 615.56 L1046.36 614.06 L1046.42 612.51 L1046.47 610.92 L1046.51 609.29 L1046.56 607.61 L1046.60 605.88 L1046.64 604.10 L1046.68 602.27 L1046.72 600.37 L1046.75 598.42 L1046.78 596.40 L1046.81 594.30 L1046.84 592.13 L1046.86 589.88 L1046.89 587.54 L1046.91 585.11 L1046.93 582.57 L1046.95 579.92 L1046.96 577.14 L1046.98 574.23 L1046.99 571.17 L1047.00 567.95 L1047.02 564.53 L1047.02 560.92 L1047.03 557.07 L1047.04 552.95 L1047.05 548.53 L1047.05 543.75 L1047.06 538.56 L1047.06 532.87 L1047.07 526.58 L1047.07 519.55 L1047.07 511.58 L1047.07 502.39 L1047.07 491.50 L1047.07 478.19 L1047.07 461.02 L1047.07 436.82 L1047.07 395.46 L1047.07 168.92 L1047.07 292.81 L1047.07 347.97 L1047.07 380.23 L1047.07 403.12 L1047.07 420.87 L1047.07 435.38 L1047.07 447.64 L1047.07 458.27 L1047.07 467.63 L1047.07 476.01 L1047.08 483.59 L1047.08 490.51 L1047.08 496.88 L1047.08 502.77 L1047.08 508.25 L1047.08 513.38 L1047.08 518.20 L1047.08 522.74 L1047.08 527.03 L1047.08 531.11 L1047.09 534.98 L1047.09 538.67 L1047.09 542.20 L1047.10 545.58 L1047.10 548.82 L1047.11 551.93 L1047.11 554.92 L1047.12 557.80 L1047.12 560.58 L1047.13 563.27 L1047.14 565.86 L1047.15 568.38 L1047.15 570.81 L1047.16 573.17 L1047.18 575.47 L1047.19 577.69 L1047.20 579.86 L1047.22 581.97 L1047.23 584.02 L1047.25 586.02 L1047.27 587.96 L1047.28 589.86 L1047.30 591.72 L1047.33 593.53 L1047.35 595.30 L1047.38 597.03 L1047.40 598.72 L1047.43 600.38 L1047.46 602.00 L1047.49 603.59 L1047.53 605.14 L1047.56 606.66 L1047.60 608.16 L1047.64 609.62 L1047.68 611.06 L1047.73 612.47 L1047.78 613.86 L1047.82 615.22 L1047.88 616.55 L1047.93 617.87 L1047.99 619.16 L1048.05 620.42 L1048.11 621.67 L1048.18 622.90 L1048.25 624.10 L1048.32 625.29 L1048.39 626.46 L1048.47 627.61 L1048.55 628.75 L1048.64 629.86 L1048.73 630.96 L1048.82 632.04 L1048.91 633.11 L1049.01 634.16 L1049.12 635.20 L1049.22 636.22 L1049.34 637.23 L1049.45 638.23 L1049.57 639.21 L1049.69 640.17 L1049.82 641.13 L1049.95 642.07 L1050.09 643.00 L1050.23 643.92 L1050.38 644.83 L1050.53 645.72 L1050.68 646.61 L1050.84 647.48 L1051.01 648.34 L1051.18 649.19 L1051.36 650.03 L1051.54 650.87 L1051.72 651.69 L1051.91 652.50 L1052.11 653.30 L1052.31 654.10 L1052.52 654.88 L1052.73 655.66 L1052.95 656.42 L1053.17 657.18 L1053.40 657.93 L1053.64 658.67 L1053.88 659.41 L1054.13 660.13 L1054.38 660.85 L1054.64 661.56 L1054.91 662.26 L1055.18 662.96 L1055.46 663.65 L1055.75 664.33 L1056.04 665.00 L1056.33 665.67 L1056.64 666.33 L1056.95 666.99 L1057.26 667.63 L1057.59 668.28 L1057.92 668.91 L1058.25 669.54 L1058.60 670.16 L1058.95 670.78 L1059.30 671.39 L1059.67 672.00 L1060.04 672.60 L1060.41 673.19 L1060.80 673.78 L1061.19 674.37 L1061.58 674.94 L1061.99 675.52 L1062.40 676.08 L1062.82 676.65 L1063.24 677.21 L1063.67 677.76 L1064.11 678.31 L1064.55 678.85 L1065.00 679.39 L1065.46 679.92 L1065.93 680.45 L1066.40 680.98 L1066.88 681.50 L1067.36 682.02 L1067.85 682.53 L1068.35 683.04 L1068.85 683.54 L1069.36 684.04 L1069.88 684.54 L1070.40 685.03 L1070.93 685.52 L1071.47 686.01 L1072.01 686.49 L1072.56 686.97 L1073.11 687.44 L1073.67 687.91 L1074.24 688.38 L1074.81 688.84 L1075.39 689.30 L1075.98 689.76 L1076.56 690.21 L1077.16 690.66 L1077.76 691.11 L1078.37 691.56 L1078.98 692.00 L1079.60 692.44 L1080.22 692.87 L1080.84 693.31 L1081.48 693.74 L1082.11 694.16 L1082.75 694.59 L1083.40 695.01 L1084.05 695.43 L1084.70 695.85 L1085.36 696.27 L1086.03 696.68 L1086.69 697.09 L1087.37 697.50 L1088.04 697.90 L1088.72 698.31 L1089.40 698.71 L1090.09 699.11 L1090.77 699.51 L1091.47 699.90 L1092.16 700.30 L1092.86 700.69 L1093.56 701.08 L1094.26 701.47 L1094.97 701.86 L1095.68 702.24 L1096.38 702.63 L1097.10 703.01 L1097.81 703.39 L1098.53 703.77 L1099.24 704.15 L1099.96 704.53 L1100.68 704.91 L1101.40 705.28 L1102.12 705.66 L1102.84 706.03 L1103.57 706.40 L1104.29 706.77 L1105.01 707.14 L1105.74 707.51 L1106.46 707.88 L1107.18 708.25 L1107.91 708.62 L1108.63 708.99 L1109.35 709.36 L1110.07 709.72 L1110.79 710.09 L1111.51 710.46 L1112.23 710.82 L1112.95 711.19 L1113.66 711.55 L1114.38 711.92 L1115.09 712.29 L1115.80 712.65 L1116.51 713.02 L1117.21 713.38 L1117.91 713.75 L1118.61 714.12 L1119.31 714.49 L1120.01 714.86 L1120.70 715.23 L1121.39 715.60 L1122.07 715.97 L1122.76 716.34 L1123.43 716.71 L1124.11 717.08 L1124.78 717.46 L1125.45 717.83 L1126.11 718.21 L1126.77 718.59 L1127.42 718.97 L1128.07 719.35 L1128.72 719.73 L1129.36 720.12 L1130.00 720.50 L1130.63 720.89 L1131.26 721.28 L1131.88 721.67 L1132.50 722.07 L1133.11 722.46 L1133.71 722.86 L1134.31 723.26 L1134.91 723.66 L1135.50 724.07 L1136.08 724.48 L1136.66 724.89 L1137.23 725.30 L1137.80 725.72 L1138.36 726.14 L1138.91 726.56 L1139.46 726.98 L1140.01 727.41 L1140.54 727.84 L1141.07 728.28 L1141.59 728.72 L1142.11 729.16 L1142.62 729.60 L1143.13 730.05 L1143.62 730.51 L1144.11 730.96 L1144.60 731.43 L1145.08 731.89 L1145.55 732.36 L1146.01 732.84 L1146.47 733.31 L1146.92 733.80 L1147.37 734.29 L1147.80 734.78 L1148.23 735.28 L1148.66 735.78 L1149.08 736.29 L1149.49 736.80 L1149.89 737.32 L1150.29 737.84 L1150.68 738.37 L1151.06 738.91 L1151.44 739.45 L1151.81 740.00 L1152.17 740.55 L1152.53 741.11 L1152.88 741.68 L1153.22 742.25 L1153.56 742.83 L1153.89 743.41 L1154.21 744.00 L1154.53 744.60 L1154.84 745.21 L1155.14 745.82 L1155.44 746.44 L1155.73 747.07 L1156.01 747.70 L1156.29 748.35 L1156.56 749.00 L1156.83 749.66 L1157.09 750.32 L1157.34 751.00 L1157.59 751.68 L1157.83 752.38 L1158.07 753.08 L1158.30 753.79 L1158.52 754.51 L1158.74 755.23 L1158.96 755.97 L1159.16 756.72 L1159.37 757.48 L1159.56 758.24 L1159.75 759.02 L1159.94 759.81 L1160.12 760.61 L1160.29 761.42 L1160.46 762.24 L1160.63 763.07 L1160.79 763.91 L1160.95 764.77 L1161.10 765.63 L1161.24 766.51 L1161.38 767.40 L1161.52 768.31 L1161.65 769.23 L1161.78 770.16 L1161.90 771.10 L1162.02 772.06 L1162.14 773.03 L1162.25 774.02 L1162.36 775.02 L1164.40 805.84 L1164.40 805.84 L1164.40 805.84 L1164.40 805.84 L1166.42 774.63 L1166.51 773.77 L1166.60 772.93 L1166.69 772.09 L1166.78 771.26 L1166.88 770.44 L1166.98 769.63 L1167.09 768.83 L1167.19 768.04 L1167.30 767.26 L1167.41 766.49 L1167.53 765.72 L1167.65 764.96 L1167.77 764.21 L1167.89 763.47 L1168.02 762.74 L1168.15 762.01 L1168.28 761.29 L1168.42 760.58 L1168.56 759.87 L1168.70 759.17 L1168.85 758.48 L1169.00 757.80 L1169.15 757.12 L1169.31 756.45 L1169.46 755.78 L1169.63 755.12 L1169.79 754.47 L1169.96 753.82 L1170.14 753.18 L1170.31 752.54 L1170.49 751.91 L1170.67 751.29 L1170.86 750.67 L1171.05 750.05 L1171.24 749.44 L1171.44 748.84 L1171.64 748.24 L1171.84 747.64 L1172.05 747.05 L1172.26 746.47 L1172.47 745.89 L1172.69 745.31 L1172.91 744.74 L1173.14 744.17 L1173.37 743.61 L1173.60 743.05 L1173.83 742.50 L1174.07 741.94 L1174.31 741.40 L1174.56 740.85 L1174.81 740.31 L1175.06 739.78 L1175.31 739.25 L1175.57 738.72 L1175.83 738.19 L1176.10 737.67 L1176.37 737.15 L1176.64 736.64 L1176.91 736.12 L1177.19 735.62 L1177.47 735.11 L1177.76 734.61 L1178.04 734.11 L1178.33 733.61 L1178.63 733.11 L1178.93 732.62 L1179.22 732.13 L1179.53 731.64 L1179.83 731.16 L1180.14 730.68 L1180.45 730.20 L1180.77 729.72 L1181.08 729.24 L1181.40 728.77 L1181.72 728.30 L1182.05 727.83 L1182.37 727.36 L1182.70 726.89 L1183.03 726.43 L1183.37 725.97 L1183.70 725.51 L1184.04 725.05 L1184.38 724.59 L1184.72 724.14 L1185.07 723.68 L1185.41 723.23 L1185.76 722.78 L1186.11 722.33 L1186.46 721.88 L1186.82 721.43 L1187.17 720.98 L1187.53 720.54 L1187.89 720.09 L1188.24 719.65 L1188.60 719.20 L1188.97 718.76 L1189.33 718.32 L1189.69 717.88 L1190.06 717.44 L1190.42 717.00 L1190.79 716.56 L1191.16 716.12 L1191.53 715.68 L1191.90 715.24 L1192.27 714.80 L1192.64 714.37 L1193.01 713.93 L1193.38 713.49 L1193.75 713.05 L1194.12 712.62 L1194.49 712.18 L1194.86 711.74 L1195.23 711.30 L1195.60 710.87 L1195.97 710.43 L1196.35 709.99 L1196.72 709.55 L1197.08 709.11 L1197.45 708.67 L1197.82 708.23 L1198.19 707.79 L1198.56 707.35 L1198.92 706.90 L1199.29 706.46 L1199.65 706.02 L1200.01 705.57 L1200.38 705.13 L1200.74 704.68 L1201.10 704.23 L1201.45 703.78 L1201.81 703.33 L1202.17 702.88 L1202.52 702.43 L1202.87 701.97 L1203.22 701.52 L1203.57 701.06 L1203.91 700.60 L1204.26 700.14 L1204.60 699.68 L1204.94 699.22 L1205.28 698.75 L1205.62 698.29 L1205.95 697.82 L1206.28 697.35 L1206.61 696.88 L1206.94 696.40 L1207.26 695.93 L1207.58 695.45 L1207.90 694.97 L1208.22 694.48 L1208.53 694.00 L1208.84 693.51 L1209.15 693.02 L1209.45 692.53 L1209.76 692.03 L1210.06 691.54 L1210.35 691.04 L1210.65 690.53 L1210.94 690.03 L1211.22 689.52 L1211.51 689.01 L1211.79 688.49 L1212.07 687.98 L1212.34 687.46 L1212.61 686.93 L1212.88 686.41 L1213.15 685.88 L1213.41 685.34 L1213.67 684.81 L1213.92 684.27 L1214.18 683.72 L1214.42 683.17 L1214.67 682.62 L1214.91 682.07 L1215.15 681.51 L1215.38 680.94 L1215.62 680.38 L1215.84 679.81 L1216.07 679.23 L1216.29 678.65 L1216.51 678.07 L1216.72 677.48 L1216.93 676.89 L1217.14 676.29 L1217.34 675.68 L1217.54 675.08 L1217.74 674.47 L1217.93 673.85 L1218.12 673.23 L1218.31 672.60 L1218.49 671.97 L1218.67 671.33 L1218.85 670.68 L1219.02 670.04 L1219.19 669.38 L1219.35 668.72 L1219.52 668.05 L1219.68 667.38 L1219.83 666.70 L1219.98 666.02 L1220.13 665.33 L1220.28 664.63 L1220.42 663.92 L1220.56 663.21 L1220.70 662.49 L1220.83 661.77 L1220.96 661.03 L1221.09 660.29 L1221.21 659.55 L1221.33 658.79 L1221.45 658.03 L1221.57 657.26 L1221.68 656.48 L1221.79 655.69 L1221.90 654.89 L1222.00 654.09 L1222.10 653.28 L1222.20 652.45 L1222.29 651.62 L1222.39 650.78 L1222.48 649.93 L1222.56 649.07 L1222.65 648.19 L1222.73 647.31 L1222.81 646.42 L1222.89 645.52 L1222.96 644.60 L1223.03 643.68 L1223.10 642.74 L1223.17 641.79 L1223.24 640.83 L1223.30 639.85 L1223.36 638.86 L1223.42 637.86 L1223.48 636.85 L1223.53 635.82 L1223.59 634.78 L1223.64 633.72 L1223.69 632.65 L1223.73 631.56 L1223.78 630.46 L1223.82 629.33 L1223.86 628.20 L1223.90 627.04 L1223.94 625.87 L1223.98 624.68 L1224.02 623.47 L1224.05 622.24 L1224.08 620.99 L1224.11 619.71 L1224.14 618.42 L1224.17 617.11 L1224.20 615.77 L1224.22 614.40 L1224.25 613.02 L1224.27 611.60 L1224.29 610.16 L1224.31 608.70 L1224.33 607.20 L1224.35 605.67 L1224.37 604.12 L1224.38 602.53 L1224.40 600.91 L1224.41 599.25 L1224.43 597.55 L1224.44 595.82 L1224.45 594.05 L1224.46 592.24 L1224.47 590.38 L1224.48 588.48 L1224.49 586.53 L1224.50 584.53 L1224.51 582.48 L1224.52 580.37 L1224.52 578.21 L1224.53 575.98 L1224.53 573.69 L1224.54 571.33 L1224.54 568.89 L1224.55 566.38 L1224.55 563.78 L1224.56 561.09 L1224.56 558.31 L1224.56 555.43 L1224.57 552.44 L1224.57 549.33 L1224.57 546.09 L1224.57 542.71 L1224.57 539.18 L1224.57 535.49 L1224.58 531.62 L1224.58 527.54 L1224.58 523.25 L1224.58 518.71 L1224.58 513.89 L1224.58 508.76 L1224.58 503.28 L1224.58 497.38 L1224.58 491.02 L1224.58 484.10 L1224.58 476.52 L1224.58 468.14 L1224.58 458.77 L1224.58 448.15 L1224.58 435.89 L1224.58 421.38 L1224.58 403.63 L1224.58 380.74 L1224.58 348.48 L1224.58 293.32 L1224.58 185.87 L1224.58 410.67 L1224.58 452.04 L1224.58 476.24 L1224.58 493.41 L1224.58 506.72 L1224.58 517.60 L1224.59 526.80 L1224.59 534.77 L1224.59 541.80 L1224.59 548.09 L1224.60 553.77 L1224.60 558.96 L1224.61 563.74 L1224.62 568.16 L1224.62 572.28 L1224.63 576.13 L1224.64 579.74 L1224.66 583.15 L1224.67 586.38 L1224.68 589.43 L1224.70 592.34 L1224.72 595.11 L1224.74 597.76 L1224.76 600.30 L1224.78 602.73 L1224.81 605.07 L1224.83 607.31 L1224.86 609.48 L1224.90 611.56 L1224.93 613.58 L1224.97 615.53 L1225.00 617.42 L1225.04 619.24 L1225.09 621.02 L1225.13 622.74 L1225.18 624.41 L1225.23 626.03 L1225.29 627.61 L1225.35 629.15 L1225.41 630.65 L1225.47 632.11 L1225.54 633.54 L1225.61 634.93 L1225.68 636.28 L1225.76 637.61 L1225.84 638.91 L1225.92 640.17 L1226.01 641.41 L1226.10 642.62 L1226.19 643.81 L1226.29 644.97 L1226.39 646.11 L1226.50 647.23 L1226.61 648.32 L1226.72 649.39 L1226.84 650.44 L1226.97 651.48 L1227.09 652.49 L1227.23 653.48 L1227.36 654.46 L1227.50 655.42 L1227.65 656.36 L1227.80 657.29 L1227.96 658.20 L1228.12 659.09 L1228.28 659.97 L1228.46 660.84 L1228.63 661.69 L1228.81 662.52 L1229.00 663.35 L1229.19 664.16 L1229.39 664.96 L1229.59 665.74 L1229.80 666.52 L1230.02 667.28 L1230.24 668.03 L1230.46 668.77 L1230.69 669.50 L1230.93 670.21 L1231.18 670.92 L1231.43 671.62 L1231.68 672.30 L1231.95 672.98 L1232.22 673.65 L1232.49 674.31 L1232.77 674.96 L1233.06 675.60 L1233.36 676.23 L1233.66 676.85 L1233.97 677.47 L1234.29 678.07 L1234.61 678.67 L1234.94 679.26 L1235.28 679.85 L1235.62 680.42 L1235.98 680.99 L1236.34 681.55 L1236.70 682.11 L1237.08 682.65 L1237.46 683.19 L1237.85 683.73 L1238.25 684.25 L1238.66 684.77 L1239.07 685.29 L1239.49 685.80 L1239.92 686.30 L1240.36 686.79 L1240.81 687.28 L1241.26 687.77 L1241.72 688.25 L1242.20 688.72 L1242.68 689.19 L1243.17 689.65 L1243.66 690.11 L1244.17 690.56 L1244.69 691.01 L1245.21 691.45 L1245.74 691.89 L1246.29 692.32 L1246.84 692.75 L1247.40 693.17 L1247.97 693.59 L1248.55 694.01 L1249.14 694.42 L1249.74 694.82 L1250.35 695.23 L1250.96 695.62 L1251.59 696.02 L1252.23 696.41 L1252.88 696.79 L1253.54 697.18 L1254.20 697.56 L1254.88 697.93 L1255.57 698.30 L1256.27 698.67 L1256.98 699.04 L1257.70 699.40 L1258.43 699.76 L1259.17 700.11 L1259.92 700.46 L1260.69 700.81 L1261.46 701.16 L1262.25 701.50 L1263.04 701.84 L1263.85 702.18 L1264.67 702.51 L1265.49 702.84 L1266.34 703.17 L1267.19 703.50 L1268.05 703.82 L1268.93 704.14 L1269.81 704.46 L1270.71 704.78 L1271.62 705.09 L1272.54 705.41 L1273.48 705.72 L1274.43 706.02 L1275.38 706.33 L1276.35 706.63 L1277.34 706.93 L1278.33 707.23 L1279.34 707.53 L1280.36 707.83 L1281.39 708.12 L1282.44 708.41 L1283.50 708.70 L1284.57 708.99 L1285.65 709.27 L1286.75 709.56 L1287.86 709.84 L1288.98 710.12 L1290.12 710.40 L1291.27 710.68 L1292.43 710.96 L1293.61 711.24 L1294.80 711.51 L1296.00 711.78 L1297.22 712.06 L1298.45 712.33 L1299.70 712.60 L1300.96 712.86 L1302.23 713.13 L1303.52 713.40 L1304.82 713.66 L1306.13 713.93 L1307.46 714.19 L1308.81 714.45 L1310.16 714.71 L1311.54 714.97 L1312.93 715.23 L1314.33 715.49 L1315.74 715.75 L1317.18 716.00 L1318.62 716.26 L1320.08 716.51 L1321.56 716.77 L1323.05 717.02 L1324.56 717.27 L1326.08 717.53 L1327.62 717.78 L1329.17 718.03 L1330.74 718.28 L1332.33 718.53 L1333.93 718.78 L1335.54 719.03 L1337.18 719.28 L1338.82 719.52 L1340.49 719.77 L1342.17 720.02 L1343.86 720.27 L1345.58 720.51 L1347.30 720.76 L1349.05 721.01 L1350.81 721.25 L1352.59 721.50 L1354.38 721.74 L1356.19 721.99 L1358.02 722.23 L1359.87 722.48 L1361.73 722.72 L1363.61 722.97 L1365.50 723.21 L1367.41 723.46 L1369.34 723.70 L1371.29 723.95 L1373.26 724.19 L1375.24 724.44 L1377.24 724.68 L1379.26 724.92 L1381.29 725.17 L1383.35 725.41 L1385.42 725.66 L1387.50 725.90 L1389.61 726.15 L1391.74 726.39 L1393.88 726.64 L1396.04 726.89 L1398.22 727.13 L1400.42 727.38 L1402.63 727.63 L1404.87 727.87 L1407.12 728.12 L1409.39 728.37 L1411.69 728.61 L1414.00 728.86 L1416.32 729.11 L1418.67 729.36 L1421.04 729.61 L1423.43 729.86 L1425.83 730.11 L1428.26 730.36 L1430.70 730.61 L1433.16 730.86 L1435.65 731.12 L1438.15 731.37 L1440.67 731.62 L1443.21 731.88 L1445.78 732.13 L1448.36 732.39 L1450.96 732.64 L1453.58 732.90 L1456.22 733.15 L1458.89 733.41 L1461.57 733.67 L1464.27 733.93 L1467.00 734.19 L1469.74 734.45 L1472.51 734.71 L1475.29 734.97 L1478.10 735.24 L1480.93 735.50 L1483.77 735.76 L1486.64 736.03 L1489.53 736.30 L1492.44 736.56 L1495.38 736.83 L1498.33 737.10 L1501.31 737.37 L1504.30 737.64 L1507.32 737.91 L1510.36 738.18 L1513.42 738.46 L1516.51 738.73 L1519.61 739.01 L1522.74 739.28 L1525.89 739.56 L1529.06 739.84 L1532.26 740.12 L1535.47 740.40 L1538.71 740.68 L1541.97 740.97 L1545.26 741.25 L1548.56 741.53 L1551.89 741.82 L1555.24 742.11 L1558.62 742.40 L1562.01 742.69 L1565.43 742.98 L1568.87 743.27 L1572.34 743.56 L1575.83 743.86 L1579.34 744.15 L1582.88 744.45 L1586.44 744.75 L1590.02 745.05 L1593.63 745.35 L1597.26 745.65 L1600.91 745.96 L1604.59 746.26 L1608.29 746.57 L1612.01 746.88 L1615.76 747.19 L1619.54 747.50 L1623.33 747.81 L1627.16 748.13 L1631.00 748.44 L1634.87 748.76 L1638.77 749.08 L1642.69 749.40 L1646.63 749.72 L1650.60 750.04 L1654.60 750.37 L1658.61 750.69 L1662.66 751.02 L1666.73 751.35 L1670.82 751.68 L1674.94 752.01 L1679.08 752.35 L1683.25 752.68 L1687.45 753.02 L1691.67 753.36 L1695.92 753.70 L1700.19 754.04 L1704.49 754.38 L1708.81 754.73 L1713.16 755.08 L1717.53 755.43 L1721.93 755.78 L1726.36 756.13 L1730.82 756.49 L1735.30 756.84 L1739.80 757.20 L1744.33 757.56 L1748.89 757.92 L1753.48 758.29 L1758.09 758.65 L1762.73 759.02 L1767.40 759.39 L1772.09 759.76 L1776.81 760.13 L1781.56 760.51 L1786.33 760.88 L1791.13 761.26 L1795.96 761.64 L1800.82 762.03 L1805.70 762.41 L1810.61 762.80 L1815.55 763.19 L1820.52 763.58 L1825.51 763.97 L1830.53 764.36 L1835.58 764.76 L1840.66 765.16 L1845.76 765.56 L1850.90 765.96 L1856.06 766.37 L1861.25 766.77 L1866.47 767.18 L1871.72 767.59 L1876.99 768.01 L1882.30 768.42 L1887.63 768.84 L1892.99 769.26 L1898.38 769.68 L1903.80 770.10 L1909.25 770.53 L1914.72 770.96 L1920.23 771.39 L1925.77 771.82 L1931.33 772.25 L1936.93 772.69 L1942.55 773.13 L1948.20 773.57 L1953.89 774.01 L1959.60 774.46 L1965.34 774.91 L1971.11 775.36 L1976.91 775.81 L1982.75 776.26 L1988.61 776.72 L1994.50 777.18 L2000.42 777.64 L2006.38 778.10 L2012.36 778.57 L2018.37 779.04 L2024.42 779.51 L2030.49 779.98 L2036.60 780.46 L2042.73 780.94 L2048.90 781.42" stroke="#FA4D0A"/>
<path d="M279.90 804.53 L285.64 804.08 L291.35 803.64 L297.03 803.19 L302.69 802.75 L308.31 802.31 L313.91 801.88 L319.48 801.44 L325.02 801.01 L330.53 800.58 L336.01 800.15 L341.47 799.72 L346.90 799.30 L352.29 798.88 L357.67 798.46 L363.01 798.04 L368.33 797.62 L373.62 797.21 L378.88 796.79 L384.11 796.38 L389.32 795.97 L394.50 795.57 L399.65 795.16 L404.77 794.76 L409.87 794.36 L414.94 793.96 L419.99 793.57 L425.00 793.17 L429.99 792.78 L434.96 792.39 L439.89 792.00 L444.80 791.61 L449.68 791.23 L454.54 790.84 L459.37 790.46 L464.18 790.08 L468.95 789.70 L473.71 789.33 L478.43 788.95 L483.13 788.58 L487.80 788.21 L492.45 787.84 L497.07 787.47 L501.67 787.11 L506.24 786.74 L510.78 786.38 L515.30 786.02 L519.80 785.66 L524.27 785.30 L528.71 784.95 L533.13 784.60 L537.52 784.24 L541.89 783.89 L546.23 783.54 L550.55 783.20 L554.84 782.85 L559.11 782.51 L563.35 782.16 L567.57 781.82 L571.76 781.48 L575.93 781.15 L580.08 780.81 L584.20 780.47 L588.29 780.14 L592.37 779.81 L596.41 779.48 L600.44 779.15 L604.44 778.82 L608.41 778.50 L612.37 778.17 L616.29 777.85 L620.20 777.53 L624.08 777.20 L627.94 776.89 L631.77 776.57 L635.58 776.25 L639.37 775.93 L643.13 775.62 L646.87 775.31 L650.59 775.00 L654.28 774.69 L657.95 774.38 L661.60 774.07 L665.22 773.76 L668.83 773.46 L672.41 773.15 L675.96 772.85 L679.50 772.55 L683.01 772.24 L686.50 771.94 L689.97 771.65 L693.41 771.35 L696.83 771.05 L700.23 770.75 L703.61 770.46 L706.97 770.17 L710.30 769.87 L713.62 769.58 L716.91 769.29 L720.18 769.00 L723.42 768.71 L726.65 768.42 L729.85 768.14 L733.04 767.85 L736.20 767.56 L739.34 767.28 L742.46 766.99 L745.55 766.71 L748.63 766.43 L751.69 766.15 L754.72 765.87 L757.73 765.59 L760.73 765.31 L763.70 765.03 L766.65 764.75 L769.58 764.47 L772.49 764.19 L775.38 763.92 L778.25 763.64 L781.10 763.37 L783.93 763.09 L786.74 762.82 L789.53 762.55 L792.30 762.27 L795.05 762.00 L797.78 761.73 L800.49 761.46 L803.18 761.19 L805.85 760.92 L808.50 760.65 L811.13 760.38 L813.74 760.11 L816.34 759.84 L818.91 759.57 L821.46 759.30 L824.00 759.03 L826.51 758.76 L829.01 758.50 L831.49 758.23 L833.95 757.96 L836.39 757.70 L838.81 757.43 L841.21 757.16 L843.60 756.90 L845.96 756.63 L848.31 756.37 L850.64 756.10 L852.95 755.83 L855.24 755.57 L857.52 755.30 L859.78 755.04 L862.01 754.77 L864.23 754.51 L866.44 754.24 L868.62 753.97 L870.79 753.71 L872.94 753.44 L875.07 753.18 L877.19 752.91 L879.28 752.64 L881.36 752.38 L883.43 752.11 L885.47 751.84 L887.50 751.58 L889.51 751.31 L891.51 751.04 L893.48 750.77 L895.45 750.51 L897.39 750.24 L899.32 749.97 L901.23 749.70 L903.12 749.43 L905.00 749.16 L906.86 748.89 L908.70 748.62 L910.53 748.35 L912.35 748.08 L914.14 747.81 L915.92 747.53 L917.69 747.26 L919.44 746.99 L921.17 746.71 L922.88 746.44 L924.59 746.16 L926.27 745.88 L927.94 745.61 L929.60 745.33 L931.24 745.05 L932.86 744.77 L934.47 744.49 L936.06 744.21 L937.64 743.93 L939.20 743.65 L940.75 743.37 L942.29 743.08 L943.80 742.80 L945.31 742.51 L946.80 742.23 L948.27 741.94 L949.73 741.65 L951.18 741.36 L952.61 741.07 L954.03 740.78 L955.43 740.49 L956.82 740.19 L958.19 739.90 L959.55 739.60 L960.90 739.30 L962.23 739.00 L963.55 738.71 L964.85 738.40 L966.15 738.10 L967.42 737.80 L968.69 737.49 L969.94 737.19 L971.18 736.88 L972.40 736.57 L973.61 736.26 L974.81 735.95 L975.99 735.63 L977.17 735.32 L978.32 735.00 L979.47 734.68 L980.60 734.36 L981.72 734.04 L982.83 733.72 L983.93 733.40 L985.01 733.07 L986.08 732.74 L987.14 732.41 L988.18 732.08 L989.21 731.74 L990.24 731.41 L991.24 731.07 L992.24 730.73 L993.23 730.39 L994.20 730.05 L995.16 729.70 L996.11 729.35 L997.05 729.00 L997.97 728.65 L998.89 728.30 L999.79 727.94 L1000.69 727.58 L1001.57 727.22 L1002.44 726.85 L1003.29 726.49 L1004.14 726.12 L1004.98 725.75 L1005.80 725.38 L1006.62 725.00 L1007.42 724.62 L1008.21 724.24 L1009.00 723.86 L1009.77 723.47 L1010.53 723.08 L1011.28 722.69 L1012.02 722.29 L1012.75 721.89 L1013.47 721.49 L1014.18 721.09 L1014.88 720.68 L1015.57 720.27 L1016.25 719.86 L1016.92 719.44 L1017.58 719.02 L1018.23 718.60 L1018.87 718.17 L1019.50 717.74 L1020.13 717.30 L1020.74 716.87 L1021.34 716.43 L1021.94 715.98 L1022.52 715.53 L1023.10 715.08 L1023.66 714.62 L1024.22 714.16 L1024.77 713.70 L1025.31 713.23 L1025.84 712.76 L1026.36 712.28 L1026.87 711.80 L1027.38 711.32 L1027.88 710.83 L1028.36 710.33 L1028.84 709.83 L1029.31 709.33 L1029.78 708.82 L1030.23 708.31 L1030.68 707.79 L1031.12 707.27 L1031.55 706.74 L1031.97 706.21 L1032.39 705.67 L1032.80 705.13 L1033.20 704.58 L1033.59 704.02 L1033.98 703.46 L1034.35 702.89 L1034.72 702.32 L1035.09 701.74 L1035.44 701.16 L1035.79 700.57 L1036.13 699.97 L1036.47 699.36 L1036.80 698.75 L1037.12 698.14 L1037.43 697.51 L1037.74 696.88 L1038.04 696.24 L1038.34 695.59 L1038.62 694.94 L1038.91 694.28 L1039.18 693.61 L1039.45 692.93 L1039.71 692.25 L1039.97 691.55 L1040.22 690.85 L1040.46 690.14 L1040.70 689.41 L1040.94 688.68 L1041.16 687.94 L1041.39 687.19 L1041.60 686.43 L1041.81 685.66 L1042.02 684.88 L1042.22 684.09 L1042.41 683.29 L1042.60 682.47 L1042.78 681.65 L1042.96 680.81 L1043.14 679.96 L1043.30 679.10 L1043.47 678.22 L1043.63 677.33 L1043.78 676.43 L1043.93 675.51 L1044.08 674.58 L1044.22 673.63 L1044.35 672.67 L1044.48 671.69 L1044.61 670.69 L1044.74 669.67 L1044.85 668.64 L1044.97 667.59 L1045.08 666.52 L1045.19 665.43 L1045.29 664.32 L1045.39 663.19 L1045.48 662.04 L1045.58 660.86 L1045.66 659.66 L1045.75 658.43 L1045.83 657.18 L1045.91 655.90 L1045.98 654.59 L1046.05 653.25 L1046.12 651.89 L1046.19 650.49 L1046.25 649.05 L1046.31 647.58 L1046.36 646.07 L1046.42 644.52 L1046.47 642.94 L1046.51 641.30 L1046.56 639.62 L1046.60 637.90 L1046.64 636.12 L1046.68 634.28 L1046.72 632.39 L1046.75 630.43 L1046.78 628.41 L1046.81 626.32 L1046.84 624.15 L1046.86 621.90 L1046.89 619.56 L1046.91 617.13 L1046.93 614.59 L1046.95 611.93 L1046.96 609.16 L1046.98 606.25 L1046.99 603.19 L1047.00 599.96 L1047.02 596.55 L1047.02 592.93 L1047.03 589.08 L1047.04 584.97 L1047.05 580.54 L1047.05 575.77 L1047.06 570.57 L1047.06 564.89 L1047.07 558.60 L1047.07 551.57 L1047.07 543.60 L1047.07 534.40 L1047.07 523.52 L1047.07 510.20 L1047.07 493.04 L1047.07 468.84 L1047.07 427.47 L1047.07 200.94 L1047.07 324.83 L1047.07 379.98 L1047.07 412.25 L1047.07 435.14 L1047.07 452.89 L1047.07 467.40 L1047.07 479.66 L1047.07 490.28 L1047.07 499.65 L1047.07 508.03 L1047.08 515.61 L1047.08 522.53 L1047.08 528.89 L1047.08 534.78 L1047.08 540.27 L1047.08 545.40 L1047.08 550.21 L1047.08 554.76 L1047.08 559.05 L1047.08 563.12 L1047.09 567.00 L1047.09 570.69 L1047.09 574.22 L1047.10 577.59 L1047.10 580.83 L1047.11 583.94 L1047.11 586.94 L1047.12 589.82 L1047.12 592.60 L1047.13 595.28 L1047.14 597.88 L1047.15 600.39 L1047.15 602.83 L1047.16 605.19 L1047.18 607.48 L1047.19 609.71 L1047.20 611.88 L1047.22 613.98 L1047.23 616.03 L1047.25 618.03 L1047.27 619.98 L1047.28 621.88 L1047.30 623.73 L1047.33 625.55 L1047.35 627.32 L1047.38 629.05 L1047.40 630.74 L1047.43 632.39 L1047.46 634.01 L1047.49 635.60 L1047.53 637.16 L1047.56 638.68 L1047.60 640.17 L1047.64 641.64 L1047.68 643.08 L1047.73 644.49 L1047.78 645.87 L1047.82 647.23 L1047.88 648.57 L1047.93 649.88 L1047.99 651.17 L1048.05 652.44 L1048.11 653.69 L1048.18 654.91 L1048.25 656.12 L1048.32 657.31 L1048.39 658.48 L1048.47 659.63 L1048.55 660.76 L1048.64 661.88 L1048.73 662.98 L1048.82 664.06 L1048.91 665.13 L1049.01 666.18 L1049.12 667.22 L1049.22 668.24 L1049.34 669.25 L1049.45 670.24 L1049.57 671.22 L1049.69 672.19 L1049.82 673.15 L1049.95 674.09 L1050.09 675.02 L1050.23 675.94 L1050.38 676.84 L1050.53 677.74 L1050.68 678.62 L1050.84 679.49 L1051.01 680.36 L1051.18 681.21 L1051.36 682.05 L1051.54 682.88 L1051.72 683.70 L1051.91 684.52 L1052.11 685.32 L1052.31 686.11 L1052.52 686.90 L1052.73 687.67 L1052.95 688.44 L1053.17 689.20 L1053.40 689.95 L1053.64 690.69 L1053.88 691.42 L1054.13 692.15 L1054.38 692.87 L1054.64 693.58 L1054.91 694.28 L1055.18 694.98 L1055.46 695.66 L1055.75 696.35 L1056.04 697.02 L1056.33 697.69 L1056.64 698.35 L1056.95 699.00 L1057.26 699.65 L1057.59 700.29 L1057.92 700.93 L1058.25 701.56 L1058.60 702.18 L1058.95 702.80 L1059.30 703.41 L1059.67 704.01 L1060.04 704.61 L1060.41 705.21 L1060.80 705.80 L1061.19 706.38 L1061.58 706.96 L1061.99 707.53 L1062.40 708.10 L1062.82 708.66 L1063.24 709.22 L1063.67 709.78 L1064.11 710.32 L1064.55 710.87 L1065.00 711.41 L1065.46 711.94 L1065.93 712.47 L1066.40 713.00 L1066.88 713.52 L1067.36 714.03 L1067.85 714.55 L1068.35 715.05 L1068.85 715.56 L1069.36 716.06 L1069.88 716.56 L1070.40 717.05 L1070.93 717.54 L1071.47 718.02 L1072.01 718.50 L1072.56 718.98 L1073.11 719.46 L1073.67 719.93 L1074.24 720.39 L1074.81 720.86 L1075.39 721.32 L1075.98 721.78 L1076.56 722.23 L1077.16 722.68 L1077.76 723.13 L1078.37 723.57 L1078.98 724.01 L1079.60 724.45 L1080.22 724.89 L1080.84 725.32 L1081.48 725.75 L1082.11 726.18 L1082.75 726.61 L1083.40 727.03 L1084.05 727.45 L1084.70 727.87 L1085.36 728.28 L1086.03 728.70 L1086.69 729.11 L1087.37 729.51 L1088.04 729.92 L1088.72 730.32 L1089.40 730.73 L1090.09 731.13 L1090.77 731.52 L1091.47 731.92 L1092.16 732.32 L1092.86 732.71 L1093.56 733.10 L1094.26 733.49 L1094.97 733.88 L1095.68 734.26 L1096.38 734.65 L1097.10 735.03 L1097.81 735.41 L1098.53 735.79 L1099.24 736.17 L1099.96 736.55 L1100.68 736.92 L1101.40 737.30 L1102.12 737.67 L1102.84 738.05 L1103.57 738.42 L1104.29 738.79 L1105.01 739.16 L1105.74 739.53 L1106.46 739.90 L1107.18 740.27 L1107.91 740.64 L1108.63 741.01 L1109.35 741.37 L1110.07 741.74 L1110.79 742.11 L1111.51 742.47 L1112.23 742.84 L1112.95 743.20 L1113.66 743.57 L1114.38 743.94 L1115.09 744.30 L1115.80 744.67 L1116.51 745.03 L1117.21 745.40 L1117.91 745.77 L1118.61 746.14 L1119.31 746.50 L1120.01 746.87 L1120.70 747.24 L1121.39 747.61 L1122.07 747.98 L1122.76 748.35 L1123.43 748.73 L1124.11 749.10 L1124.78 749.47 L1125.45 749.85 L1126.11 750.23 L1126.77 750.61 L1127.42 750.98 L1128.07 751.37 L1128.72 751.75 L1129.36 752.13 L1130.00 752.52 L1130.63 752.91 L1131.26 753.30 L1131.88 753.69 L1132.50 754.08 L1133.11 754.48 L1133.71 754.88 L1134.31 755.28 L1134.91 755.68 L1135.50 756.08 L1136.08 756.49 L1136.66 756.90 L1137.23 757.32 L1137.80 757.73 L1138.36 758.15 L1138.91 758.57 L1139.46 759.00 L1140.01 759.43 L1140.54 759.86 L1141.07 760.29 L1141.59 760.73 L1142.11 761.17 L1142.62 761.62 L1143.13 762.07 L1143.62 762.52 L1144.11 762.98 L1144.60 763.44 L1145.08 763.91 L1145.55 764.38 L1146.01 764.85 L1146.47 765.33 L1146.92 765.81 L1147.37 766.30 L1147.80 766.80 L1148.23 767.29 L1148.66 767.80 L1149.08 768.30 L1149.49 768.82 L1149.89 769.34 L1150.29 769.86 L1150.68 770.39 L1151.06 770.93 L1151.44 771.47 L1151.81 772.01 L1152.17 772.57 L1152.53 773.13 L1152.88 773.69 L1153.22 774.26 L1153.56 774.84 L1153.89 775.43 L1154.21 776.02 L1154.53 776.62 L1154.84 777.22 L1155.14 777.84 L1155.44 778.46 L1155.73 779.08 L1156.01 779.72 L1156.29 780.36 L1156.56 781.01 L1156.83 781.67 L1157.09 782.34 L1157.34 783.02 L1157.59 783.70 L1157.83 784.39 L1158.07 785.09 L1158.30 785.80 L1158.52 786.52 L1158.74 787.25 L1158.96 787.99 L1159.16 788.74 L1159.37 789.49 L1159.56 790.26 L1159.75 791.04 L1159.94 791.83 L1160.12 792.62 L1160.29 793.43 L1160.46 794.25 L1160.63 795.09 L1160.79 795.93 L1160.95 796.78 L1161.10 797.65 L1161.24 798.53 L1161.38 799.42 L1161.52 800.32 L1161.65 801.24 L1161.78 802.17 L1161.90 803.12 L1162.02 804.07 L1162.14 805.05 L1162.25 806.03 L1162.36 807.03 L1164.40 837.86 L1164.40 837.86 L1164.40 837.86 L1164.40 837.86 L1166.42 806.65 L1166.51 805.79 L1166.60 804.94 L1166.69 804.11 L1166.78 803.28 L1166.88 802.46 L1166.98 801.65 L1167.09 800.85 L1167.19 800.06 L1167.30 799.28 L1167.41 798.50 L1167.53 797.74 L1167.65 796.98 L1167.77 796.23 L1167.89 795.49 L1168.02 794.75 L1168.15 794.03 L1168.28 793.31 L1168.42 792.59 L1168.56 791.89 L1168.70 791.19 L1168.85 790.50 L1169.00 789.81 L1169.15 789.14 L1169.31 788.46 L1169.46 787.80 L1169.63 787.14 L1169.79 786.48 L1169.96 785.84 L1170.14 785.19 L1170.31 784.56 L1170.49 783.93 L1170.67 783.30 L1170.86 782.68 L1171.05 782.07 L1171.24 781.46 L1171.44 780.85 L1171.64 780.25 L1171.84 779.66 L1172.05 779.07 L1172.26 778.48 L1172.47 777.90 L1172.69 777.33 L1172.91 776.76 L1173.14 776.19 L1173.37 775.63 L1173.60 775.07 L1173.83 774.51 L1174.07 773.96 L1174.31 773.41 L1174.56 772.87 L1174.81 772.33 L1175.06 771.80 L1175.31 771.26 L1175.57 770.73 L1175.83 770.21 L1176.10 769.69 L1176.37 769.17 L1176.64 768.65 L1176.91 768.14 L1177.19 767.63 L1177.47 767.13 L1177.76 766.62 L1178.04 766.12 L1178.33 765.62 L1178.63 765.13 L1178.93 764.64 L1179.22 764.15 L1179.53 763.66 L1179.83 763.17 L1180.14 762.69 L1180.45 762.21 L1180.77 761.73 L1181.08 761.26 L1181.40 760.79 L1181.72 760.31 L1182.05 759.84 L1182.37 759.38 L1182.70 758.91 L1183.03 758.45 L1183.37 757.98 L1183.70 757.52 L1184.04 757.07 L1184.38 756.61 L1184.72 756.15 L1185.07 755.70 L1185.41 755.24 L1185.76 754.79 L1186.11 754.34 L1186.46 753.89 L1186.82 753.45 L1187.17 753.00 L1187.53 752.55 L1187.89 752.11 L1188.24 751.66 L1188.60 751.22 L1188.97 750.78 L1189.33 750.34 L1189.69 749.89 L1190.06 749.45 L1190.42 749.01 L1190.79 748.57 L1191.16 748.14 L1191.53 747.70 L1191.90 747.26 L1192.27 746.82 L1192.64 746.38 L1193.01 745.94 L1193.38 745.51 L1193.75 745.07 L1194.12 744.63 L1194.49 744.19 L1194.86 743.76 L1195.23 743.32 L1195.60 742.88 L1195.97 742.44 L1196.35 742.00 L1196.72 741.57 L1197.08 741.13 L1197.45 740.69 L1197.82 740.25 L1198.19 739.80 L1198.56 739.36 L1198.92 738.92 L1199.29 738.48 L1199.65 738.03 L1200.01 737.59 L1200.38 737.14 L1200.74 736.69 L1201.10 736.25 L1201.45 735.80 L1201.81 735.35 L1202.17 734.90 L1202.52 734.44 L1202.87 733.99 L1203.22 733.53 L1203.57 733.08 L1203.91 732.62 L1204.26 732.16 L1204.60 731.70 L1204.94 731.23 L1205.28 730.77 L1205.62 730.30 L1205.95 729.83 L1206.28 729.36 L1206.61 728.89 L1206.94 728.42 L1207.26 727.94 L1207.58 727.46 L1207.90 726.98 L1208.22 726.50 L1208.53 726.01 L1208.84 725.53 L1209.15 725.04 L1209.45 724.55 L1209.76 724.05 L1210.06 723.55 L1210.35 723.05 L1210.65 722.55 L1210.94 722.04 L1211.22 721.54 L1211.51 721.02 L1211.79 720.51 L1212.07 719.99 L1212.34 719.47 L1212.61 718.95 L1212.88 718.42 L1213.15 717.89 L1213.41 717.36 L1213.67 716.82 L1213.92 716.28 L1214.18 715.74 L1214.42 715.19 L1214.67 714.64 L1214.91 714.08 L1215.15 713.52 L1215.38 712.96 L1215.62 712.39 L1215.84 711.82 L1216.07 711.25 L1216.29 710.67 L1216.51 710.08 L1216.72 709.49 L1216.93 708.90 L1217.14 708.30 L1217.34 707.70 L1217.54 707.09 L1217.74 706.48 L1217.93 705.86 L1218.12 705.24 L1218.31 704.62 L1218.49 703.98 L1218.67 703.34 L1218.85 702.70 L1219.02 702.05 L1219.19 701.40 L1219.35 700.74 L1219.52 700.07 L1219.68 699.40 L1219.83 698.72 L1219.98 698.03 L1220.13 697.34 L1220.28 696.64 L1220.42 695.94 L1220.56 695.23 L1220.70 694.51 L1220.83 693.78 L1220.96 693.05 L1221.09 692.31 L1221.21 691.56 L1221.33 690.81 L1221.45 690.04 L1221.57 689.27 L1221.68 688.49 L1221.79 687.71 L1221.90 686.91 L1222.00 686.11 L1222.10 685.29 L1222.20 684.47 L1222.29 683.64 L1222.39 682.80 L1222.48 681.94 L1222.56 681.08 L1222.65 680.21 L1222.73 679.33 L1222.81 678.44 L1222.89 677.53 L1222.96 676.62 L1223.03 675.69 L1223.10 674.76 L1223.17 673.81 L1223.24 672.84 L1223.30 671.87 L1223.36 670.88 L1223.42 669.88 L1223.48 668.87 L1223.53 667.84 L1223.59 666.79 L1223.64 665.74 L1223.69 664.66 L1223.73 663.58 L1223.78 662.47 L1223.82 661.35 L1223.86 660.21 L1223.90 659.06 L1223.94 657.89 L1223.98 656.69 L1224.02 655.48 L1224.05 654.25 L1224.08 653.00 L1224.11 651.73 L1224.14 650.44 L1224.17 649.12 L1224.20 647.78 L1224.22 646.42 L1224.25 645.03 L1224.27 643.62 L1224.29 642.18 L1224.31 640.71 L1224.33 639.22 L1224.35 637.69 L1224.37 636.13 L1224.38 634.54 L1224.40 632.92 L1224.41 631.26 L1224.43 629.57 L1224.44 627.84 L1224.45 626.07 L1224.46 624.26 L1224.47 622.40 L1224.48 620.50 L1224.49 618.55 L1224.50 616.55 L1224.51 614.50 L1224.52 612.39 L1224.52 610.22 L1224.53 608.00 L1224.53 605.70 L1224.54 603.34 L1224.54 600.91 L1224.55 598.39 L1224.55 595.80 L1224.56 593.11 L1224.56 590.33 L1224.56 587.45 L1224.57 584.45 L1224.57 581.34 L1224.57 578.10 L1224.57 574.73 L1224.57 571.20 L1224.57 567.51 L1224.58 563.63 L1224.58 559.56 L1224.58 555.26 L1224.58 550.72 L1224.58 545.91 L1224.58 540.78 L1224.58 535.29 L1224.58 529.40 L1224.58 523.04 L1224.58 516.12 L1224.58 508.54 L1224.58 500.16 L1224.58 490.79 L1224.58 480.17 L1224.58 467.90 L1224.58 453.40 L1224.58 435.64 L1224.58 412.76 L1224.58 380.49 L1224.58 325.34 L1224.58 217.89 L1224.58 442.69 L1224.58 484.06 L1224.58 508.25 L1224.58 525.42 L1224.58 538.74 L1224.58 549.62 L1224.59 558.82 L1224.59 566.79 L1224.59 573.82 L1224.59 580.10 L1224.60 585.79 L1224.60 590.98 L1224.61 595.76 L1224.62 600.18 L1224.62 604.29 L1224.63 608.14 L1224.64 611.76 L1224.66 615.17 L1224.67 618.39 L1224.68 621.45 L1224.70 624.36 L1224.72 627.13 L1224.74 629.78 L1224.76 632.31 L1224.78 634.75 L1224.81 637.08 L1224.83 639.33 L1224.86 641.49 L1224.90 643.58 L1224.93 645.60 L1224.97 647.55 L1225.00 649.43 L1225.04 651.26 L1225.09 653.03 L1225.13 654.75 L1225.18 656.43 L1225.23 658.05 L1225.29 659.63 L1225.35 661.17 L1225.41 662.67 L1225.47 664.13 L1225.54 665.55 L1225.61 666.94 L1225.68 668.30 L1225.76 669.63 L1225.84 670.92 L1225.92 672.19 L1226.01 673.43 L1226.10 674.64 L1226.19 675.83 L1226.29 676.99 L1226.39 678.13 L1226.50 679.24 L1226.61 680.34 L1226.72 681.41 L1226.84 682.46 L1226.97 683.49 L1227.09 684.51 L1227.23 685.50 L1227.36 686.48 L1227.50 687.44 L1227.65 688.38 L1227.80 689.30 L1227.96 690.21 L1228.12 691.11 L1228.28 691.99 L1228.46 692.85 L1228.63 693.70 L1228.81 694.54 L1229.00 695.36 L1229.19 696.18 L1229.39 696.97 L1229.59 697.76 L1229.80 698.53 L1230.02 699.29 L1230.24 700.05 L1230.46 700.78 L1230.69 701.51 L1230.93 702.23 L1231.18 702.94 L1231.43 703.63 L1231.68 704.32 L1231.95 705.00 L1232.22 705.67 L1232.49 706.32 L1232.77 706.97 L1233.06 707.61 L1233.36 708.25 L1233.66 708.87 L1233.97 709.48 L1234.29 710.09 L1234.61 710.69 L1234.94 711.28 L1235.28 711.86 L1235.62 712.44 L1235.98 713.01 L1236.34 713.57 L1236.70 714.12 L1237.08 714.67 L1237.46 715.21 L1237.85 715.74 L1238.25 716.27 L1238.66 716.79 L1239.07 717.30 L1239.49 717.81 L1239.92 718.31 L1240.36 718.81 L1240.81 719.30 L1241.26 719.78 L1241.72 720.26 L1242.20 720.74 L1242.68 721.21 L1243.17 721.67 L1243.66 722.13 L1244.17 722.58 L1244.69 723.02 L1245.21 723.47 L1245.74 723.90 L1246.29 724.34 L1246.84 724.77 L1247.40 725.19 L1247.97 725.61 L1248.55 726.02 L1249.14 726.43 L1249.74 726.84 L1250.35 727.24 L1250.96 727.64 L1251.59 728.03 L1252.23 728.42 L1252.88 728.81 L1253.54 729.19 L1254.20 729.57 L1254.88 729.95 L1255.57 730.32 L1256.27 730.69 L1256.98 731.05 L1257.70 731.41 L1258.43 731.77 L1259.17 732.13 L1259.92 732.48 L1260.69 732.83 L1261.46 733.17 L1262.25 733.52 L1263.04 733.86 L1263.85 734.19 L1264.67 734.53 L1265.49 734.86 L1266.34 735.19 L1267.19 735.52 L1268.05 735.84 L1268.93 736.16 L1269.81 736.48 L1270.71 736.80 L1271.62 737.11 L1272.54 737.42 L1273.48 737.73 L1274.43 738.04 L1275.38 738.35 L1276.35 738.65 L1277.34 738.95 L1278.33 739.25 L1279.34 739.55 L1280.36 739.84 L1281.39 740.13 L1282.44 740.43 L1283.50 740.72 L1284.57 741.00 L1285.65 741.29 L1286.75 741.58 L1287.86 741.86 L1288.98 742.14 L1290.12 742.42 L1291.27 742.70 L1292.43 742.98 L1293.61 743.25 L1294.80 743.53 L1296.00 743.80 L1297.22 744.07 L1298.45 744.34 L1299.70 744.61 L1300.96 744.88 L1302.23 745.15 L1303.52 745.41 L1304.82 745.68 L1306.13 745.94 L1307.46 746.21 L1308.81 746.47 L1310.16 746.73 L1311.54 746.99 L1312.93 747.25 L1314.33 747.50 L1315.74 747.76 L1317.18 748.02 L1318.62 748.27 L1320.08 748.53 L1321.56 748.78 L1323.05 749.04 L1324.56 749.29 L1326.08 749.54 L1327.62 749.79 L1329.17 750.05 L1330.74 750.30 L1332.33 750.55 L1333.93 750.80 L1335.54 751.04 L1337.18 751.29 L1338.82 751.54 L1340.49 751.79 L1342.17 752.04 L1343.86 752.28 L1345.58 752.53 L1347.30 752.78 L1349.05 753.02 L1350.81 753.27 L1352.59 753.51 L1354.38 753.76 L1356.19 754.00 L1358.02 754.25 L1359.87 754.49 L1361.73 754.74 L1363.61 754.98 L1365.50 755.23 L1367.41 755.47 L1369.34 755.72 L1371.29 755.96 L1373.26 756.21 L1375.24 756.45 L1377.24 756.70 L1379.26 756.94 L1381.29 757.19 L1383.35 757.43 L1385.42 757.68 L1387.50 757.92 L1389.61 758.17 L1391.74 758.41 L1393.88 758.66 L1396.04 758.90 L1398.22 759.15 L1400.42 759.40 L1402.63 759.64 L1404.87 759.89 L1407.12 760.14 L1409.39 760.38 L1411.69 760.63 L1414.00 760.88 L1416.32 761.13 L1418.67 761.38 L1421.04 761.63 L1423.43 761.88 L1425.83 762.13 L1428.26 762.38 L1430.70 762.63 L1433.16 762.88 L1435.65 763.13 L1438.15 763.39 L1440.67 763.64 L1443.21 763.89 L1445.78 764.15 L1448.36 764.40 L1450.96 764.66 L1453.58 764.91 L1456.22 765.17 L1458.89 765.43 L1461.57 765.69 L1464.27 765.95 L1467.00 766.21 L1469.74 766.47 L1472.51 766.73 L1475.29 766.99 L1478.10 767.25 L1480.93 767.52 L1483.77 767.78 L1486.64 768.05 L1489.53 768.31 L1492.44 768.58 L1495.38 768.85 L1498.33 769.12 L1501.31 769.39 L1504.30 769.66 L1507.32 769.93 L1510.36 770.20 L1513.42 770.47 L1516.51 770.75 L1519.61 771.02 L1522.74 771.30 L1525.89 771.58 L1529.06 771.86 L1532.26 772.14 L1535.47 772.42 L1538.71 772.70 L1541.97 772.98 L1545.26 773.27 L1548.56 773.55 L1551.89 773.84 L1555.24 774.12 L1558.62 774.41 L1562.01 774.70 L1565.43 774.99 L1568.87 775.29 L1572.34 775.58 L1575.83 775.87 L1579.34 776.17 L1582.88 776.47 L1586.44 776.77 L1590.02 777.07 L1593.63 777.37 L1597.26 777.67 L1600.91 777.97 L1604.59 778.28 L1608.29 778.59 L1612.01 778.90 L1615.76 779.20 L1619.54 779.52 L1623.33 779.83 L1627.16 780.14 L1631.00 780.46 L1634.87 780.77 L1638.77 781.09 L1642.69 781.41 L1646.63 781.73 L1650.60 782.06 L1654.60 782.38 L1658.61 782.71 L1662.66 783.04 L1666.73 783.36 L1670.82 783.70 L1674.94 784.03 L1679.08 784.36 L1683.25 784.70 L1687.45 785.03 L1691.67 785.37 L1695.92 785.71 L1700.19 786.06 L1704.49 786.40 L1708.81 786.75 L1713.16 787.09 L1717.53 787.44 L1721.93 787.79 L1726.36 788.15 L1730.82 788.50 L1735.30 788.86 L1739.80 789.22 L1744.33 789.58 L1748.89 789.94 L1753.48 790.30 L1758.09 790.67 L1762.73 791.04 L1767.40 791.40 L1772.09 791.78 L1776.81 792.15 L1781.56 792.52 L1786.33 792.90 L1791.13 793.28 L1795.96 793.66 L1800.82 794.04 L1805.70 794.43 L1810.61 794.81 L1815.55 795.20 L1820.52 795.59 L1825.51 795.98 L1830.53 796.38 L1835.58 796.78 L1840.66 797.17 L1845.76 797.57 L1850.90 797.98 L1856.06 798.38 L1861.25 798.79 L1866.47 799.20 L1871.72 799.61 L1876.99 800.02 L1882.30 800.44 L1887.63 800.85 L1892.99 801.27 L1898.38 801.69 L1903.80 802.12 L1909.25 802.54 L1914.72 802.97 L1920.23 803.40 L1925.77 803.83 L1931.33 804.27 L1936.93 804.71 L1942.55 805.14 L1948.20 805.59 L1953.89 806.03 L1959.60 806.48 L1965.34 806.92 L1971.11 807.37 L1976.91 807.83 L1982.75 808.28 L1988.61 808.74 L1994.50 809.20 L2000.42 809.66 L2006.38 810.12 L2012.36 810.59 L2018.37 811.06 L2024.42 811.53 L2030.49 812.00 L2036.60 812.47 L2042.73 812.95 L2048.90 813.43" stroke="#FFB000"/>
<path d="M279.90 818.32 L285.64 817.87 L291.35 817.43 L297.03 816.98 L302.69 816.54 L308.31 816.10 L313.91 815.67 L319.48 815.23 L325.02 814.80 L330.53 814.37 L336.01 813.94 L341.47 813.51 L346.90 813.09 L352.29 812.66 L357.67 812.24 L363.01 811.83 L368.33 811.41 L373.62 810.99 L378.88 810.58 L384.11 810.17 L389.32 809.76 L394.50 809.36 L399.65 808.95 L404.77 808.55 L409.87 808.15 L414.94 807.75 L419.99 807.35 L425.00 806.96 L429.99 806.57 L434.96 806.18 L439.89 805.79 L444.80 805.40 L449.68 805.01 L454.54 804.63 L459.37 804.25 L464.18 803.87 L468.95 803.49 L473.71 803.11 L478.43 802.74 L483.13 802.37 L487.80 802.00 L492.45 801.63 L497.07 801.26 L501.67 800.90 L506.24 800.53 L510.78 800.17 L515.30 799.81 L519.80 799.45 L524.27 799.09 L528.71 798.74 L533.13 798.38 L537.52 798.03 L541.89 797.68 L546.23 797.33 L550.55 796.99 L554.84 796.64 L559.11 796.30 L563.35 795.95 L567.57 795.61 L571.76 795.27 L575.93 794.93 L580.08 794.60 L584.20 794.26 L588.29 793.93 L592.37 793.60 L596.41 793.27 L600.44 792.94 L604.44 792.61 L608.41 792.28 L612.37 791.96 L616.29 791.64 L620.20 791.31 L624.08 790.99 L627.94 790.67 L631.77 790.36 L635.58 790.04 L639.37 789.72 L643.13 789.41 L646.87 789.10 L650.59 788.78 L654.28 788.47 L657.95 788.16 L661.60 787.86 L665.22 787.55 L668.83 787.24 L672.41 786.94 L675.96 786.64 L679.50 786.33 L683.01 786.03 L686.50 785.73 L689.97 785.43 L693.41 785.14 L696.83 784.84 L700.23 784.54 L703.61 784.25 L706.97 783.95 L710.30 783.66 L713.62 783.37 L716.91 783.08 L720.18 782.79 L723.42 782.50 L726.65 782.21 L729.85 781.92 L733.04 781.64 L736.20 781.35 L739.34 781.07 L742.46 780.78 L745.55 780.50 L748.63 780.22 L751.69 779.94 L754.72 779.65 L757.73 779.37 L760.73 779.09 L763.70 778.82 L766.65 778.54 L769.58 778.26 L772.49 777.98 L775.38 777.71 L778.25 777.43 L781.10 777.16 L783.93 776.88 L786.74 776.61 L789.53 776.33 L792.30 776.06 L795.05 775.79 L797.78 775.52 L800.49 775.25 L803.18 774.98 L805.85 774.70 L808.50 774.43 L811.13 774.16 L813.74 773.90 L816.34 773.63 L818.91 773.36 L821.46 773.09 L824.00 772.82 L826.51 772.55 L829.01 772.29 L831.49 772.02 L833.95 771.75 L836.39 771.49 L838.81 771.22 L841.21 770.95 L843.60 770.69 L845.96 770.42 L848.31 770.15 L850.64 769.89 L852.95 769.62 L855.24 769.36 L857.52 769.09 L859.78 768.83 L862.01 768.56 L864.23 768.29 L866.44 768.03 L868.62 767.76 L870.79 767.50 L872.94 767.23 L875.07 766.96 L877.19 766.70 L879.28 766.43 L881.36 766.17 L883.43 765.90 L885.47 765.63 L887.50 765.37 L889.51 765.10 L891.51 764.83 L893.48 764.56 L895.45 764.30 L897.39 764.03 L899.32 763.76 L901.23 763.49 L903.12 763.22 L905.00 762.95 L906.86 762.68 L908.70 762.41 L910.53 762.14 L912.35 761.87 L914.14 761.59 L915.92 761.32 L917.69 761.05 L919.44 760.77 L921.17 760.50 L922.88 760.23 L924.59 759.95 L926.27 759.67 L927.94 759.40 L929.60 759.12 L931.24 758.84 L932.86 758.56 L934.47 758.28 L936.06 758.00 L937.64 757.72 L939.20 757.44 L940.75 757.16 L942.29 756.87 L943.80 756.59 L945.31 756.30 L946.80 756.01 L948.27 755.73 L949.73 755.44 L951.18 755.15 L952.61 754.86 L954.03 754.57 L955.43 754.27 L956.82 753.98 L958.19 753.69 L959.55 753.39 L960.90 753.09 L962.23 752.79 L963.55 752.49 L964.85 752.19 L966.15 751.89 L967.42 751.59 L968.69 751.28 L969.94 750.98 L971.18 750.67 L972.40 750.36 L973.61 750.05 L974.81 749.74 L975.99 749.42 L977.17 749.11 L978.32 748.79 L979.47 748.47 L980.60 748.15 L981.72 747.83 L982.83 747.51 L983.93 747.18 L985.01 746.86 L986.08 746.53 L987.14 746.20 L988.18 745.87 L989.21 745.53 L990.24 745.20 L991.24 744.86 L992.24 744.52 L993.23 744.18 L994.20 743.83 L995.16 743.49 L996.11 743.14 L997.05 742.79 L997.97 742.44 L998.89 742.08 L999.79 741.73 L1000.69 741.37 L1001.57 741.01 L1002.44 740.64 L1003.29 740.28 L1004.14 739.91 L1004.98 739.54 L1005.80 739.16 L1006.62 738.79 L1007.42 738.41 L1008.21 738.03 L1009.00 737.64 L1009.77 737.26 L1010.53 736.87 L1011.28 736.47 L1012.02 736.08 L1012.75 735.68 L1013.47 735.28 L1014.18 734.88 L1014.88 734.47 L1015.57 734.06 L1016.25 733.64 L1016.92 733.23 L1017.58 732.81 L1018.23 732.38 L1018.87 731.96 L1019.50 731.53 L1020.13 731.09 L1020.74 730.66 L1021.34 730.21 L1021.94 729.77 L1022.52 729.32 L1023.10 728.87 L1023.66 728.41 L1024.22 727.95 L1024.77 727.49 L1025.31 727.02 L1025.84 726.55 L1026.36 726.07 L1026.87 725.59 L1027.38 725.11 L1027.88 724.62 L1028.36 724.12 L1028.84 723.62 L1029.31 723.12 L1029.78 722.61 L1030.23 722.10 L1030.68 721.58 L1031.12 721.06 L1031.55 720.53 L1031.97 720.00 L1032.39 719.46 L1032.80 718.91 L1033.20 718.36 L1033.59 717.81 L1033.98 717.25 L1034.35 716.68 L1034.72 716.11 L1035.09 715.53 L1035.44 714.95 L1035.79 714.35 L1036.13 713.76 L1036.47 713.15 L1036.80 712.54 L1037.12 711.92 L1037.43 711.30 L1037.74 710.67 L1038.04 710.03 L1038.34 709.38 L1038.62 708.73 L1038.91 708.07 L1039.18 707.40 L1039.45 706.72 L1039.71 706.03 L1039.97 705.34 L1040.22 704.64 L1040.46 703.92 L1040.70 703.20 L1040.94 702.47 L1041.16 701.73 L1041.39 700.98 L1041.60 700.22 L1041.81 699.45 L1042.02 698.67 L1042.22 697.88 L1042.41 697.08 L1042.60 696.26 L1042.78 695.44 L1042.96 694.60 L1043.14 693.75 L1043.30 692.89 L1043.47 692.01 L1043.63 691.12 L1043.78 690.22 L1043.93 689.30 L1044.08 688.37 L1044.22 687.42 L1044.35 686.45 L1044.48 685.47 L1044.61 684.48 L1044.74 683.46 L1044.85 682.43 L1044.97 681.38 L1045.08 680.31 L1045.19 679.22 L1045.29 678.11 L1045.39 676.98 L1045.48 675.83 L1045.58 674.65 L1045.66 673.45 L1045.75 672.22 L1045.83 670.97 L1045.91 669.69 L1045.98 668.38 L1046.05 667.04 L1046.12 665.67 L1046.19 664.27 L1046.25 662.84 L1046.31 661.37 L1046.36 659.86 L1046.42 658.31 L1046.47 656.72 L1046.51 655.09 L1046.56 653.41 L1046.60 651.68 L1046.64 649.91 L1046.68 648.07 L1046.72 646.18 L1046.75 644.22 L1046.78 642.20 L1046.81 640.11 L1046.84 637.94 L1046.86 635.69 L1046.89 633.35 L1046.91 630.91 L1046.93 628.38 L1046.95 625.72 L1046.96 622.95 L1046.98 620.04 L1046.99 616.98 L1047.00 613.75 L1047.02 610.34 L1047.02 606.72 L1047.03 602.87 L1047.04 598.75 L1047.05 594.33 L1047.05 589.56 L1047.06 584.36 L1047.06 578.68 L1047.07 572.39 L1047.07 565.36 L1047.07 557.39 L1047.07 548.19 L1047.07 537.31 L1047.07 523.99 L1047.07 506.82 L1047.07 482.63 L1047.07 441.26 L1047.07 214.73 L1047.07 338.62 L1047.07 393.77 L1047.07 426.04 L1047.07 448.93 L1047.07 466.68 L1047.07 481.18 L1047.07 493.45 L1047.07 504.07 L1047.07 513.44 L1047.07 521.82 L1047.08 529.40 L1047.08 536.32 L1047.08 542.68 L1047.08 548.57 L1047.08 554.06 L1047.08 559.19 L1047.08 564.00 L1047.08 568.54 L1047.08 572.84 L1047.08 576.91 L1047.09 580.79 L1047.09 584.48 L1047.09 588.01 L1047.10 591.38 L1047.10 594.62 L1047.11 597.73 L1047.11 600.72 L1047.12 603.61 L1047.12 606.39 L1047.13 609.07 L1047.14 611.67 L1047.15 614.18 L1047.15 616.62 L1047.16 618.98 L1047.18 621.27 L1047.19 623.50 L1047.20 625.66 L1047.22 627.77 L1047.23 629.82 L1047.25 631.82 L1047.27 633.77 L1047.28 635.67 L1047.30 637.52 L1047.33 639.34 L1047.35 641.10 L1047.38 642.83 L1047.40 644.53 L1047.43 646.18 L1047.46 647.80 L1047.49 649.39 L1047.53 650.95 L1047.56 652.47 L1047.60 653.96 L1047.64 655.43 L1047.68 656.87 L1047.73 658.28 L1047.78 659.66 L1047.82 661.02 L1047.88 662.36 L1047.93 663.67 L1047.99 664.96 L1048.05 666.23 L1048.11 667.48 L1048.18 668.70 L1048.25 669.91 L1048.32 671.10 L1048.39 672.27 L1048.47 673.42 L1048.55 674.55 L1048.64 675.67 L1048.73 676.77 L1048.82 677.85 L1048.91 678.92 L1049.01 679.97 L1049.12 681.01 L1049.22 682.03 L1049.34 683.04 L1049.45 684.03 L1049.57 685.01 L1049.69 685.98 L1049.82 686.93 L1049.95 687.88 L1050.09 688.81 L1050.23 689.73 L1050.38 690.63 L1050.53 691.53 L1050.68 692.41 L1050.84 693.28 L1051.01 694.15 L1051.18 695.00 L1051.36 695.84 L1051.54 696.67 L1051.72 697.49 L1051.91 698.30 L1052.11 699.11 L1052.31 699.90 L1052.52 700.68 L1052.73 701.46 L1052.95 702.23 L1053.17 702.99 L1053.40 703.74 L1053.64 704.48 L1053.88 705.21 L1054.13 705.94 L1054.38 706.65 L1054.64 707.37 L1054.91 708.07 L1055.18 708.76 L1055.46 709.45 L1055.75 710.13 L1056.04 710.81 L1056.33 711.48 L1056.64 712.14 L1056.95 712.79 L1057.26 713.44 L1057.59 714.08 L1057.92 714.72 L1058.25 715.35 L1058.60 715.97 L1058.95 716.59 L1059.30 717.20 L1059.67 717.80 L1060.04 718.40 L1060.41 719.00 L1060.80 719.59 L1061.19 720.17 L1061.58 720.75 L1061.99 721.32 L1062.40 721.89 L1062.82 722.45 L1063.24 723.01 L1063.67 723.56 L1064.11 724.11 L1064.55 724.66 L1065.00 725.19 L1065.46 725.73 L1065.93 726.26 L1066.40 726.78 L1066.88 727.31 L1067.36 727.82 L1067.85 728.34 L1068.35 728.84 L1068.85 729.35 L1069.36 729.85 L1069.88 730.34 L1070.40 730.84 L1070.93 731.33 L1071.47 731.81 L1072.01 732.29 L1072.56 732.77 L1073.11 733.24 L1073.67 733.71 L1074.24 734.18 L1074.81 734.65 L1075.39 735.11 L1075.98 735.56 L1076.56 736.02 L1077.16 736.47 L1077.76 736.92 L1078.37 737.36 L1078.98 737.80 L1079.60 738.24 L1080.22 738.68 L1080.84 739.11 L1081.48 739.54 L1082.11 739.97 L1082.75 740.40 L1083.40 740.82 L1084.05 741.24 L1084.70 741.66 L1085.36 742.07 L1086.03 742.48 L1086.69 742.89 L1087.37 743.30 L1088.04 743.71 L1088.72 744.11 L1089.40 744.52 L1090.09 744.92 L1090.77 745.31 L1091.47 745.71 L1092.16 746.10 L1092.86 746.50 L1093.56 746.89 L1094.26 747.28 L1094.97 747.66 L1095.68 748.05 L1096.38 748.43 L1097.10 748.82 L1097.81 749.20 L1098.53 749.58 L1099.24 749.96 L1099.96 750.34 L1100.68 750.71 L1101.40 751.09 L1102.12 751.46 L1102.84 751.84 L1103.57 752.21 L1104.29 752.58 L1105.01 752.95 L1105.74 753.32 L1106.46 753.69 L1107.18 754.06 L1107.91 754.43 L1108.63 754.79 L1109.35 755.16 L1110.07 755.53 L1110.79 755.89 L1111.51 756.26 L1112.23 756.63 L1112.95 756.99 L1113.66 757.36 L1114.38 757.72 L1115.09 758.09 L1115.80 758.46 L1116.51 758.82 L1117.21 759.19 L1117.91 759.56 L1118.61 759.92 L1119.31 760.29 L1120.01 760.66 L1120.70 761.03 L1121.39 761.40 L1122.07 761.77 L1122.76 762.14 L1123.43 762.51 L1124.11 762.89 L1124.78 763.26 L1125.45 763.64 L1126.11 764.02 L1126.77 764.39 L1127.42 764.77 L1128.07 765.15 L1128.72 765.54 L1129.36 765.92 L1130.00 766.31 L1130.63 766.70 L1131.26 767.09 L1131.88 767.48 L1132.50 767.87 L1133.11 768.27 L1133.71 768.66 L1134.31 769.07 L1134.91 769.47 L1135.50 769.87 L1136.08 770.28 L1136.66 770.69 L1137.23 771.10 L1137.80 771.52 L1138.36 771.94 L1138.91 772.36 L1139.46 772.79 L1140.01 773.22 L1140.54 773.65 L1141.07 774.08 L1141.59 774.52 L1142.11 774.96 L1142.62 775.41 L1143.13 775.86 L1143.62 776.31 L1144.11 776.77 L1144.60 777.23 L1145.08 777.70 L1145.55 778.17 L1146.01 778.64 L1146.47 779.12 L1146.92 779.60 L1147.37 780.09 L1147.80 780.58 L1148.23 781.08 L1148.66 781.59 L1149.08 782.09 L1149.49 782.61 L1149.89 783.13 L1150.29 783.65 L1150.68 784.18 L1151.06 784.71 L1151.44 785.26 L1151.81 785.80 L1152.17 786.36 L1152.53 786.91 L1152.88 787.48 L1153.22 788.05 L1153.56 788.63 L1153.89 789.22 L1154.21 789.81 L1154.53 790.41 L1154.84 791.01 L1155.14 791.63 L1155.44 792.25 L1155.73 792.87 L1156.01 793.51 L1156.29 794.15 L1156.56 794.80 L1156.83 795.46 L1157.09 796.13 L1157.34 796.80 L1157.59 797.49 L1157.83 798.18 L1158.07 798.88 L1158.30 799.59 L1158.52 800.31 L1158.74 801.04 L1158.96 801.78 L1159.16 802.52 L1159.37 803.28 L1159.56 804.05 L1159.75 804.83 L1159.94 805.61 L1160.12 806.41 L1160.29 807.22 L1160.46 808.04 L1160.63 808.87 L1160.79 809.72 L1160.95 810.57 L1161.10 811.44 L1161.24 812.32 L1161.38 813.21 L1161.52 814.11 L1161.65 815.03 L1161.78 815.96 L1161.90 816.90 L1162.02 817.86 L1162.14 818.83 L1162.25 819.82 L1162.36 820.82 L1164.40 851.65 L1164.40 851.65 L1164.40 851.65 L1164.40 851.65 L1166.42 820.44 L1166.51 819.58 L1166.60 818.73 L1166.69 817.89 L1166.78 817.07 L1166.88 816.25 L1166.98 815.44 L1167.09 814.64 L1167.19 813.85 L1167.30 813.07 L1167.41 812.29 L1167.53 811.53 L1167.65 810.77 L1167.77 810.02 L1167.89 809.28 L1168.02 808.54 L1168.15 807.82 L1168.28 807.10 L1168.42 806.38 L1168.56 805.68 L1168.70 804.98 L1168.85 804.29 L1169.00 803.60 L1169.15 802.92 L1169.31 802.25 L1169.46 801.59 L1169.63 800.93 L1169.79 800.27 L1169.96 799.63 L1170.14 798.98 L1170.31 798.35 L1170.49 797.72 L1170.67 797.09 L1170.86 796.47 L1171.05 795.86 L1171.24 795.25 L1171.44 794.64 L1171.64 794.04 L1171.84 793.45 L1172.05 792.86 L1172.26 792.27 L1172.47 791.69 L1172.69 791.12 L1172.91 790.54 L1173.14 789.98 L1173.37 789.41 L1173.60 788.86 L1173.83 788.30 L1174.07 787.75 L1174.31 787.20 L1174.56 786.66 L1174.81 786.12 L1175.06 785.58 L1175.31 785.05 L1175.57 784.52 L1175.83 784.00 L1176.10 783.48 L1176.37 782.96 L1176.64 782.44 L1176.91 781.93 L1177.19 781.42 L1177.47 780.91 L1177.76 780.41 L1178.04 779.91 L1178.33 779.41 L1178.63 778.92 L1178.93 778.43 L1179.22 777.94 L1179.53 777.45 L1179.83 776.96 L1180.14 776.48 L1180.45 776.00 L1180.77 775.52 L1181.08 775.05 L1181.40 774.57 L1181.72 774.10 L1182.05 773.63 L1182.37 773.17 L1182.70 772.70 L1183.03 772.24 L1183.37 771.77 L1183.70 771.31 L1184.04 770.85 L1184.38 770.40 L1184.72 769.94 L1185.07 769.49 L1185.41 769.03 L1185.76 768.58 L1186.11 768.13 L1186.46 767.68 L1186.82 767.23 L1187.17 766.79 L1187.53 766.34 L1187.89 765.90 L1188.24 765.45 L1188.60 765.01 L1188.97 764.57 L1189.33 764.12 L1189.69 763.68 L1190.06 763.24 L1190.42 762.80 L1190.79 762.36 L1191.16 761.92 L1191.53 761.49 L1191.90 761.05 L1192.27 760.61 L1192.64 760.17 L1193.01 759.73 L1193.38 759.30 L1193.75 758.86 L1194.12 758.42 L1194.49 757.98 L1194.86 757.55 L1195.23 757.11 L1195.60 756.67 L1195.97 756.23 L1196.35 755.79 L1196.72 755.35 L1197.08 754.91 L1197.45 754.47 L1197.82 754.03 L1198.19 753.59 L1198.56 753.15 L1198.92 752.71 L1199.29 752.27 L1199.65 751.82 L1200.01 751.38 L1200.38 750.93 L1200.74 750.48 L1201.10 750.04 L1201.45 749.59 L1201.81 749.14 L1202.17 748.68 L1202.52 748.23 L1202.87 747.78 L1203.22 747.32 L1203.57 746.87 L1203.91 746.41 L1204.26 745.95 L1204.60 745.49 L1204.94 745.02 L1205.28 744.56 L1205.62 744.09 L1205.95 743.62 L1206.28 743.15 L1206.61 742.68 L1206.94 742.21 L1207.26 741.73 L1207.58 741.25 L1207.90 740.77 L1208.22 740.29 L1208.53 739.80 L1208.84 739.32 L1209.15 738.83 L1209.45 738.33 L1209.76 737.84 L1210.06 737.34 L1210.35 736.84 L1210.65 736.34 L1210.94 735.83 L1211.22 735.32 L1211.51 734.81 L1211.79 734.30 L1212.07 733.78 L1212.34 733.26 L1212.61 732.74 L1212.88 732.21 L1213.15 731.68 L1213.41 731.15 L1213.67 730.61 L1213.92 730.07 L1214.18 729.53 L1214.42 728.98 L1214.67 728.43 L1214.91 727.87 L1215.15 727.31 L1215.38 726.75 L1215.62 726.18 L1215.84 725.61 L1216.07 725.04 L1216.29 724.46 L1216.51 723.87 L1216.72 723.28 L1216.93 722.69 L1217.14 722.09 L1217.34 721.49 L1217.54 720.88 L1217.74 720.27 L1217.93 719.65 L1218.12 719.03 L1218.31 718.40 L1218.49 717.77 L1218.67 717.13 L1218.85 716.49 L1219.02 715.84 L1219.19 715.19 L1219.35 714.52 L1219.52 713.86 L1219.68 713.19 L1219.83 712.51 L1219.98 711.82 L1220.13 711.13 L1220.28 710.43 L1220.42 709.73 L1220.56 709.02 L1220.70 708.30 L1220.83 707.57 L1220.96 706.84 L1221.09 706.10 L1221.21 705.35 L1221.33 704.60 L1221.45 703.83 L1221.57 703.06 L1221.68 702.28 L1221.79 701.50 L1221.90 700.70 L1222.00 699.89 L1222.10 699.08 L1222.20 698.26 L1222.29 697.43 L1222.39 696.58 L1222.48 695.73 L1222.56 694.87 L1222.65 694.00 L1222.73 693.12 L1222.81 692.23 L1222.89 691.32 L1222.96 690.41 L1223.03 689.48 L1223.10 688.54 L1223.17 687.59 L1223.24 686.63 L1223.30 685.66 L1223.36 684.67 L1223.42 683.67 L1223.48 682.65 L1223.53 681.63 L1223.59 680.58 L1223.64 679.53 L1223.69 678.45 L1223.73 677.36 L1223.78 676.26 L1223.82 675.14 L1223.86 674.00 L1223.90 672.85 L1223.94 671.67 L1223.98 670.48 L1224.02 669.27 L1224.05 668.04 L1224.08 666.79 L1224.11 665.52 L1224.14 664.23 L1224.17 662.91 L1224.20 661.57 L1224.22 660.21 L1224.25 658.82 L1224.27 657.41 L1224.29 655.97 L1224.31 654.50 L1224.33 653.00 L1224.35 651.48 L1224.37 649.92 L1224.38 648.33 L1224.40 646.71 L1224.41 645.05 L1224.43 643.36 L1224.44 641.63 L1224.45 639.86 L1224.46 638.04 L1224.47 636.19 L1224.48 634.29 L1224.49 632.34 L1224.50 630.34 L1224.51 628.29 L1224.52 626.18 L1224.52 624.01 L1224.53 621.79 L1224.53 619.49 L1224.54 617.13 L1224.54 614.70 L1224.55 612.18 L1224.55 609.58 L1224.56 606.90 L1224.56 604.12 L1224.56 601.23 L1224.57 598.24 L1224.57 595.13 L1224.57 591.89 L1224.57 588.52 L1224.57 584.99 L1224.57 581.29 L1224.58 577.42 L1224.58 573.35 L1224.58 569.05 L1224.58 564.51 L1224.58 559.69 L1224.58 554.57 L1224.58 549.08 L1224.58 543.19 L1224.58 536.83 L1224.58 529.91 L1224.58 522.33 L1224.58 513.95 L1224.58 504.58 L1224.58 493.96 L1224.58 481.69 L1224.58 467.19 L1224.58 449.43 L1224.58 426.54 L1224.58 394.28 L1224.58 339.13 L1224.58 231.68 L1224.58 456.48 L1224.58 497.84 L1224.58 522.04 L1224.58 539.21 L1224.58 552.53 L1224.58 563.41 L1224.59 572.61 L1224.59 580.58 L1224.59 587.60 L1224.59 593.89 L1224.60 599.58 L1224.60 604.77 L1224.61 609.55 L1224.62 613.97 L1224.62 618.08 L1224.63 621.93 L1224.64 625.55 L1224.66 628.96 L1224.67 632.18 L1224.68 635.24 L1224.70 638.15 L1224.72 640.92 L1224.74 643.57 L1224.76 646.10 L1224.78 648.54 L1224.81 650.87 L1224.83 653.12 L1224.86 655.28 L1224.90 657.37 L1224.93 659.39 L1224.97 661.34 L1225.00 663.22 L1225.04 665.05 L1225.09 666.82 L1225.13 668.54 L1225.18 670.21 L1225.23 671.84 L1225.29 673.42 L1225.35 674.96 L1225.41 676.46 L1225.47 677.92 L1225.54 679.34 L1225.61 680.73 L1225.68 682.09 L1225.76 683.42 L1225.84 684.71 L1225.92 685.98 L1226.01 687.22 L1226.10 688.43 L1226.19 689.62 L1226.29 690.78 L1226.39 691.92 L1226.50 693.03 L1226.61 694.13 L1226.72 695.20 L1226.84 696.25 L1226.97 697.28 L1227.09 698.29 L1227.23 699.29 L1227.36 700.27 L1227.50 701.22 L1227.65 702.17 L1227.80 703.09 L1227.96 704.00 L1228.12 704.90 L1228.28 705.78 L1228.46 706.64 L1228.63 707.49 L1228.81 708.33 L1229.00 709.15 L1229.19 709.96 L1229.39 710.76 L1229.59 711.55 L1229.80 712.32 L1230.02 713.08 L1230.24 713.83 L1230.46 714.57 L1230.69 715.30 L1230.93 716.02 L1231.18 716.73 L1231.43 717.42 L1231.68 718.11 L1231.95 718.79 L1232.22 719.45 L1232.49 720.11 L1232.77 720.76 L1233.06 721.40 L1233.36 722.03 L1233.66 722.66 L1233.97 723.27 L1234.29 723.88 L1234.61 724.48 L1234.94 725.07 L1235.28 725.65 L1235.62 726.23 L1235.98 726.80 L1236.34 727.36 L1236.70 727.91 L1237.08 728.46 L1237.46 729.00 L1237.85 729.53 L1238.25 730.06 L1238.66 730.58 L1239.07 731.09 L1239.49 731.60 L1239.92 732.10 L1240.36 732.60 L1240.81 733.09 L1241.26 733.57 L1241.72 734.05 L1242.20 734.53 L1242.68 734.99 L1243.17 735.46 L1243.66 735.91 L1244.17 736.37 L1244.69 736.81 L1245.21 737.26 L1245.74 737.69 L1246.29 738.13 L1246.84 738.55 L1247.40 738.98 L1247.97 739.40 L1248.55 739.81 L1249.14 740.22 L1249.74 740.63 L1250.35 741.03 L1250.96 741.43 L1251.59 741.82 L1252.23 742.21 L1252.88 742.60 L1253.54 742.98 L1254.20 743.36 L1254.88 743.74 L1255.57 744.11 L1256.27 744.48 L1256.98 744.84 L1257.70 745.20 L1258.43 745.56 L1259.17 745.92 L1259.92 746.27 L1260.69 746.62 L1261.46 746.96 L1262.25 747.31 L1263.04 747.65 L1263.85 747.98 L1264.67 748.32 L1265.49 748.65 L1266.34 748.98 L1267.19 749.30 L1268.05 749.63 L1268.93 749.95 L1269.81 750.27 L1270.71 750.59 L1271.62 750.90 L1272.54 751.21 L1273.48 751.52 L1274.43 751.83 L1275.38 752.13 L1276.35 752.44 L1277.34 752.74 L1278.33 753.04 L1279.34 753.33 L1280.36 753.63 L1281.39 753.92 L1282.44 754.22 L1283.50 754.51 L1284.57 754.79 L1285.65 755.08 L1286.75 755.36 L1287.86 755.65 L1288.98 755.93 L1290.12 756.21 L1291.27 756.49 L1292.43 756.77 L1293.61 757.04 L1294.80 757.32 L1296.00 757.59 L1297.22 757.86 L1298.45 758.13 L1299.70 758.40 L1300.96 758.67 L1302.23 758.94 L1303.52 759.20 L1304.82 759.47 L1306.13 759.73 L1307.46 759.99 L1308.81 760.26 L1310.16 760.52 L1311.54 760.78 L1312.93 761.04 L1314.33 761.29 L1315.74 761.55 L1317.18 761.81 L1318.62 762.06 L1320.08 762.32 L1321.56 762.57 L1323.05 762.83 L1324.56 763.08 L1326.08 763.33 L1327.62 763.58 L1329.17 763.83 L1330.74 764.08 L1332.33 764.33 L1333.93 764.58 L1335.54 764.83 L1337.18 765.08 L1338.82 765.33 L1340.49 765.58 L1342.17 765.82 L1343.86 766.07 L1345.58 766.32 L1347.30 766.57 L1349.05 766.81 L1350.81 767.06 L1352.59 767.30 L1354.38 767.55 L1356.19 767.79 L1358.02 768.04 L1359.87 768.28 L1361.73 768.53 L1363.61 768.77 L1365.50 769.02 L1367.41 769.26 L1369.34 769.51 L1371.29 769.75 L1373.26 770.00 L1375.24 770.24 L1377.24 770.49 L1379.26 770.73 L1381.29 770.97 L1383.35 771.22 L1385.42 771.46 L1387.50 771.71 L1389.61 771.95 L1391.74 772.20 L1393.88 772.45 L1396.04 772.69 L1398.22 772.94 L1400.42 773.18 L1402.63 773.43 L1404.87 773.68 L1407.12 773.92 L1409.39 774.17 L1411.69 774.42 L1414.00 774.67 L1416.32 774.92 L1418.67 775.17 L1421.04 775.41 L1423.43 775.66 L1425.83 775.92 L1428.26 776.17 L1430.70 776.42 L1433.16 776.67 L1435.65 776.92 L1438.15 777.17 L1440.67 777.43 L1443.21 777.68 L1445.78 777.94 L1448.36 778.19 L1450.96 778.45 L1453.58 778.70 L1456.22 778.96 L1458.89 779.22 L1461.57 779.48 L1464.27 779.74 L1467.00 779.99 L1469.74 780.26 L1472.51 780.52 L1475.29 780.78 L1478.10 781.04 L1480.93 781.31 L1483.77 781.57 L1486.64 781.83 L1489.53 782.10 L1492.44 782.37 L1495.38 782.64 L1498.33 782.90 L1501.31 783.17 L1504.30 783.45 L1507.32 783.72 L1510.36 783.99 L1513.42 784.26 L1516.51 784.54 L1519.61 784.81 L1522.74 785.09 L1525.89 785.37 L1529.06 785.64 L1532.26 785.92 L1535.47 786.21 L1538.71 786.49 L1541.97 786.77 L1545.26 787.05 L1548.56 787.34 L1551.89 787.63 L1555.24 787.91 L1558.62 788.20 L1562.01 788.49 L1565.43 788.78 L1568.87 789.08 L1572.34 789.37 L1575.83 789.66 L1579.34 789.96 L1582.88 790.26 L1586.44 790.56 L1590.02 790.86 L1593.63 791.16 L1597.26 791.46 L1600.91 791.76 L1604.59 792.07 L1608.29 792.38 L1612.01 792.68 L1615.76 792.99 L1619.54 793.30 L1623.33 793.62 L1627.16 793.93 L1631.00 794.25 L1634.87 794.56 L1638.77 794.88 L1642.69 795.20 L1646.63 795.52 L1650.60 795.85 L1654.60 796.17 L1658.61 796.50 L1662.66 796.82 L1666.73 797.15 L1670.82 797.48 L1674.94 797.82 L1679.08 798.15 L1683.25 798.49 L1687.45 798.82 L1691.67 799.16 L1695.92 799.50 L1700.19 799.85 L1704.49 800.19 L1708.81 800.54 L1713.16 800.88 L1717.53 801.23 L1721.93 801.58 L1726.36 801.94 L1730.82 802.29 L1735.30 802.65 L1739.80 803.01 L1744.33 803.37 L1748.89 803.73 L1753.48 804.09 L1758.09 804.46 L1762.73 804.82 L1767.40 805.19 L1772.09 805.56 L1776.81 805.94 L1781.56 806.31 L1786.33 806.69 L1791.13 807.07 L1795.96 807.45 L1800.82 807.83 L1805.70 808.22 L1810.61 808.60 L1815.55 808.99 L1820.52 809.38 L1825.51 809.77 L1830.53 810.17 L1835.58 810.56 L1840.66 810.96 L1845.76 811.36 L1850.90 811.77 L1856.06 812.17 L1861.25 812.58 L1866.47 812.99 L1871.72 813.40 L1876.99 813.81 L1882.30 814.23 L1887.63 814.64 L1892.99 815.06 L1898.38 815.48 L1903.80 815.91 L1909.25 816.33 L1914.72 816.76 L1920.23 817.19 L1925.77 817.62 L1931.33 818.06 L1936.93 818.49 L1942.55 818.93 L1948.20 819.37 L1953.89 819.82 L1959.60 820.26 L1965.34 820.71 L1971.11 821.16 L1976.91 821.61 L1982.75 822.07 L1988.61 822.53 L1994.50 822.98 L2000.42 823.45 L2006.38 823.91 L2012.36 824.38 L2018.37 824.84 L2024.42 825.31 L2030.49 825.79 L2036.60 826.26 L2042.73 826.74 L2048.90 827.22" stroke="#8E2A90"/>
<path d="M279.90 850.34 L285.64 849.89 L291.35 849.44 L297.03 849.00 L302.69 848.56 L308.31 848.12 L313.91 847.68 L319.48 847.25 L325.02 846.81 L330.53 846.38 L336.01 845.95 L341.47 845.53 L346.90 845.10 L352.29 844.68 L357.67 844.26 L363.01 843.84 L368.33 843.43 L373.62 843.01 L378.88 842.60 L384.11 842.19 L389.32 841.78 L394.50 841.37 L399.65 840.97 L404.77 840.57 L409.87 840.17 L414.94 839.77 L419.99 839.37 L425.00 838.98 L429.99 838.58 L434.96 838.19 L439.89 837.80 L444.80 837.42 L449.68 837.03 L454.54 836.65 L459.37 836.27 L464.18 835.89 L468.95 835.51 L473.71 835.13 L478.43 834.76 L483.13 834.38 L487.80 834.01 L492.45 833.64 L497.07 833.28 L501.67 832.91 L506.24 832.55 L510.78 832.19 L515.30 831.82 L519.80 831.47 L524.27 831.11 L528.71 830.75 L533.13 830.40 L537.52 830.05 L541.89 829.70 L546.23 829.35 L550.55 829.00 L554.84 828.66 L559.11 828.31 L563.35 827.97 L567.57 827.63 L571.76 827.29 L575.93 826.95 L580.08 826.61 L584.20 826.28 L588.29 825.95 L592.37 825.61 L596.41 825.28 L600.44 824.95 L604.44 824.63 L608.41 824.30 L612.37 823.98 L616.29 823.65 L620.20 823.33 L624.08 823.01 L627.94 822.69 L631.77 822.37 L635.58 822.06 L639.37 821.74 L643.13 821.43 L646.87 821.11 L650.59 820.80 L654.28 820.49 L657.95 820.18 L661.60 819.87 L665.22 819.57 L668.83 819.26 L672.41 818.96 L675.96 818.65 L679.50 818.35 L683.01 818.05 L686.50 817.75 L689.97 817.45 L693.41 817.15 L696.83 816.86 L700.23 816.56 L703.61 816.26 L706.97 815.97 L710.30 815.68 L713.62 815.39 L716.91 815.09 L720.18 814.80 L723.42 814.52 L726.65 814.23 L729.85 813.94 L733.04 813.65 L736.20 813.37 L739.34 813.08 L742.46 812.80 L745.55 812.52 L748.63 812.23 L751.69 811.95 L754.72 811.67 L757.73 811.39 L760.73 811.11 L763.70 810.83 L766.65 810.55 L769.58 810.28 L772.49 810.00 L775.38 809.72 L778.25 809.45 L781.10 809.17 L783.93 808.90 L786.74 808.62 L789.53 808.35 L792.30 808.08 L795.05 807.81 L797.78 807.53 L800.49 807.26 L803.18 806.99 L805.85 806.72 L808.50 806.45 L811.13 806.18 L813.74 805.91 L816.34 805.64 L818.91 805.37 L821.46 805.11 L824.00 804.84 L826.51 804.57 L829.01 804.30 L831.49 804.04 L833.95 803.77 L836.39 803.50 L838.81 803.23 L841.21 802.97 L843.60 802.70 L845.96 802.44 L848.31 802.17 L850.64 801.90 L852.95 801.64 L855.24 801.37 L857.52 801.11 L859.78 800.84 L862.01 800.58 L864.23 800.31 L866.44 800.04 L868.62 799.78 L870.79 799.51 L872.94 799.25 L875.07 798.98 L877.19 798.72 L879.28 798.45 L881.36 798.18 L883.43 797.92 L885.47 797.65 L887.50 797.38 L889.51 797.11 L891.51 796.85 L893.48 796.58 L895.45 796.31 L897.39 796.04 L899.32 795.77 L901.23 795.51 L903.12 795.24 L905.00 794.97 L906.86 794.70 L908.70 794.43 L910.53 794.15 L912.35 793.88 L914.14 793.61 L915.92 793.34 L917.69 793.06 L919.44 792.79 L921.17 792.52 L922.88 792.24 L924.59 791.97 L926.27 791.69 L927.94 791.41 L929.60 791.14 L931.24 790.86 L932.86 790.58 L934.47 790.30 L936.06 790.02 L937.64 789.74 L939.20 789.45 L940.75 789.17 L942.29 788.89 L943.80 788.60 L945.31 788.32 L946.80 788.03 L948.27 787.74 L949.73 787.45 L951.18 787.17 L952.61 786.87 L954.03 786.58 L955.43 786.29 L956.82 786.00 L958.19 785.70 L959.55 785.41 L960.90 785.11 L962.23 784.81 L963.55 784.51 L964.85 784.21 L966.15 783.91 L967.42 783.60 L968.69 783.30 L969.94 782.99 L971.18 782.68 L972.40 782.38 L973.61 782.06 L974.81 781.75 L975.99 781.44 L977.17 781.12 L978.32 780.81 L979.47 780.49 L980.60 780.17 L981.72 779.85 L982.83 779.53 L983.93 779.20 L985.01 778.87 L986.08 778.55 L987.14 778.22 L988.18 777.88 L989.21 777.55 L990.24 777.21 L991.24 776.88 L992.24 776.54 L993.23 776.19 L994.20 775.85 L995.16 775.51 L996.11 775.16 L997.05 774.81 L997.97 774.45 L998.89 774.10 L999.79 773.74 L1000.69 773.38 L1001.57 773.02 L1002.44 772.66 L1003.29 772.29 L1004.14 771.93 L1004.98 771.55 L1005.80 771.18 L1006.62 770.80 L1007.42 770.43 L1008.21 770.04 L1009.00 769.66 L1009.77 769.27 L1010.53 768.88 L1011.28 768.49 L1012.02 768.10 L1012.75 767.70 L1013.47 767.30 L1014.18 766.89 L1014.88 766.48 L1015.57 766.07 L1016.25 765.66 L1016.92 765.24 L1017.58 764.82 L1018.23 764.40 L1018.87 763.97 L1019.50 763.54 L1020.13 763.11 L1020.74 762.67 L1021.34 762.23 L1021.94 761.79 L1022.52 761.34 L1023.10 760.89 L1023.66 760.43 L1024.22 759.97 L1024.77 759.50 L1025.31 759.04 L1025.84 758.56 L1026.36 758.09 L1026.87 757.61 L1027.38 757.12 L1027.88 756.63 L1028.36 756.14 L1028.84 755.64 L1029.31 755.14 L1029.78 754.63 L1030.23 754.11 L1030.68 753.60 L1031.12 753.07 L1031.55 752.55 L1031.97 752.01 L1032.39 751.47 L1032.80 750.93 L1033.20 750.38 L1033.59 749.83 L1033.98 749.26 L1034.35 748.70 L1034.72 748.13 L1035.09 747.55 L1035.44 746.96 L1035.79 746.37 L1036.13 745.77 L1036.47 745.17 L1036.80 744.56 L1037.12 743.94 L1037.43 743.32 L1037.74 742.69 L1038.04 742.05 L1038.34 741.40 L1038.62 740.75 L1038.91 740.08 L1039.18 739.41 L1039.45 738.74 L1039.71 738.05 L1039.97 737.36 L1040.22 736.65 L1040.46 735.94 L1040.70 735.22 L1040.94 734.49 L1041.16 733.75 L1041.39 733.00 L1041.60 732.24 L1041.81 731.47 L1042.02 730.69 L1042.22 729.90 L1042.41 729.09 L1042.60 728.28 L1042.78 727.45 L1042.96 726.62 L1043.14 725.77 L1043.30 724.90 L1043.47 724.03 L1043.63 723.14 L1043.78 722.23 L1043.93 721.32 L1044.08 720.38 L1044.22 719.43 L1044.35 718.47 L1044.48 717.49 L1044.61 716.49 L1044.74 715.48 L1044.85 714.45 L1044.97 713.40 L1045.08 712.33 L1045.19 711.24 L1045.29 710.13 L1045.39 709.00 L1045.48 707.84 L1045.58 706.66 L1045.66 705.46 L1045.75 704.24 L1045.83 702.98 L1045.91 701.71 L1045.98 700.40 L1046.05 699.06 L1046.12 697.69 L1046.19 696.29 L1046.25 694.86 L1046.31 693.38 L1046.36 691.88 L1046.42 690.33 L1046.47 688.74 L1046.51 687.11 L1046.56 685.43 L1046.60 683.70 L1046.64 681.92 L1046.68 680.09 L1046.72 678.19 L1046.75 676.24 L1046.78 674.22 L1046.81 672.12 L1046.84 669.96 L1046.86 667.70 L1046.89 665.37 L1046.91 662.93 L1046.93 660.39 L1046.95 657.74 L1046.96 654.96 L1046.98 652.05 L1046.99 648.99 L1047.00 645.77 L1047.02 642.36 L1047.02 638.74 L1047.03 634.89 L1047.04 630.77 L1047.05 626.35 L1047.05 621.57 L1047.06 616.38 L1047.06 610.69 L1047.07 604.40 L1047.07 597.37 L1047.07 589.41 L1047.07 580.21 L1047.07 569.33 L1047.07 556.01 L1047.07 538.84 L1047.07 514.64 L1047.07 473.28 L1047.07 246.75 L1047.07 370.64 L1047.07 425.79 L1047.07 458.05 L1047.07 480.94 L1047.07 498.70 L1047.07 513.20 L1047.07 525.46 L1047.07 536.09 L1047.07 545.46 L1047.07 553.83 L1047.08 561.41 L1047.08 568.33 L1047.08 574.70 L1047.08 580.59 L1047.08 586.07 L1047.08 591.20 L1047.08 596.02 L1047.08 600.56 L1047.08 604.85 L1047.08 608.93 L1047.09 612.80 L1047.09 616.50 L1047.09 620.02 L1047.10 623.40 L1047.10 626.64 L1047.11 629.75 L1047.11 632.74 L1047.12 635.62 L1047.12 638.40 L1047.13 641.09 L1047.14 643.69 L1047.15 646.20 L1047.15 648.63 L1047.16 651.00 L1047.18 653.29 L1047.19 655.52 L1047.20 657.68 L1047.22 659.79 L1047.23 661.84 L1047.25 663.84 L1047.27 665.78 L1047.28 667.69 L1047.30 669.54 L1047.33 671.35 L1047.35 673.12 L1047.38 674.85 L1047.40 676.54 L1047.43 678.20 L1047.46 679.82 L1047.49 681.41 L1047.53 682.96 L1047.56 684.49 L1047.60 685.98 L1047.64 687.44 L1047.68 688.88 L1047.73 690.29 L1047.78 691.68 L1047.82 693.04 L1047.88 694.37 L1047.93 695.69 L1047.99 696.98 L1048.05 698.25 L1048.11 699.49 L1048.18 700.72 L1048.25 701.93 L1048.32 703.11 L1048.39 704.28 L1048.47 705.43 L1048.55 706.57 L1048.64 707.68 L1048.73 708.78 L1048.82 709.87 L1048.91 710.93 L1049.01 711.98 L1049.12 713.02 L1049.22 714.04 L1049.34 715.05 L1049.45 716.05 L1049.57 717.03 L1049.69 718.00 L1049.82 718.95 L1049.95 719.89 L1050.09 720.82 L1050.23 721.74 L1050.38 722.65 L1050.53 723.54 L1050.68 724.43 L1050.84 725.30 L1051.01 726.16 L1051.18 727.01 L1051.36 727.86 L1051.54 728.69 L1051.72 729.51 L1051.91 730.32 L1052.11 731.12 L1052.31 731.92 L1052.52 732.70 L1052.73 733.48 L1052.95 734.24 L1053.17 735.00 L1053.40 735.75 L1053.64 736.49 L1053.88 737.23 L1054.13 737.95 L1054.38 738.67 L1054.64 739.38 L1054.91 740.08 L1055.18 740.78 L1055.46 741.47 L1055.75 742.15 L1056.04 742.83 L1056.33 743.49 L1056.64 744.15 L1056.95 744.81 L1057.26 745.46 L1057.59 746.10 L1057.92 746.73 L1058.25 747.36 L1058.60 747.99 L1058.95 748.60 L1059.30 749.21 L1059.67 749.82 L1060.04 750.42 L1060.41 751.01 L1060.80 751.60 L1061.19 752.19 L1061.58 752.77 L1061.99 753.34 L1062.40 753.91 L1062.82 754.47 L1063.24 755.03 L1063.67 755.58 L1064.11 756.13 L1064.55 756.67 L1065.00 757.21 L1065.46 757.75 L1065.93 758.28 L1066.40 758.80 L1066.88 759.32 L1067.36 759.84 L1067.85 760.35 L1068.35 760.86 L1068.85 761.36 L1069.36 761.86 L1069.88 762.36 L1070.40 762.85 L1070.93 763.34 L1071.47 763.83 L1072.01 764.31 L1072.56 764.79 L1073.11 765.26 L1073.67 765.73 L1074.24 766.20 L1074.81 766.66 L1075.39 767.12 L1075.98 767.58 L1076.56 768.03 L1077.16 768.49 L1077.76 768.93 L1078.37 769.38 L1078.98 769.82 L1079.60 770.26 L1080.22 770.69 L1080.84 771.13 L1081.48 771.56 L1082.11 771.99 L1082.75 772.41 L1083.40 772.83 L1084.05 773.25 L1084.70 773.67 L1085.36 774.09 L1086.03 774.50 L1086.69 774.91 L1087.37 775.32 L1088.04 775.73 L1088.72 776.13 L1089.40 776.53 L1090.09 776.93 L1090.77 777.33 L1091.47 777.73 L1092.16 778.12 L1092.86 778.51 L1093.56 778.90 L1094.26 779.29 L1094.97 779.68 L1095.68 780.07 L1096.38 780.45 L1097.10 780.83 L1097.81 781.21 L1098.53 781.60 L1099.24 781.97 L1099.96 782.35 L1100.68 782.73 L1101.40 783.10 L1102.12 783.48 L1102.84 783.85 L1103.57 784.22 L1104.29 784.60 L1105.01 784.97 L1105.74 785.34 L1106.46 785.71 L1107.18 786.07 L1107.91 786.44 L1108.63 786.81 L1109.35 787.18 L1110.07 787.54 L1110.79 787.91 L1111.51 788.28 L1112.23 788.64 L1112.95 789.01 L1113.66 789.37 L1114.38 789.74 L1115.09 790.11 L1115.80 790.47 L1116.51 790.84 L1117.21 791.21 L1117.91 791.57 L1118.61 791.94 L1119.31 792.31 L1120.01 792.68 L1120.70 793.05 L1121.39 793.42 L1122.07 793.79 L1122.76 794.16 L1123.43 794.53 L1124.11 794.90 L1124.78 795.28 L1125.45 795.65 L1126.11 796.03 L1126.77 796.41 L1127.42 796.79 L1128.07 797.17 L1128.72 797.55 L1129.36 797.94 L1130.00 798.32 L1130.63 798.71 L1131.26 799.10 L1131.88 799.49 L1132.50 799.89 L1133.11 800.28 L1133.71 800.68 L1134.31 801.08 L1134.91 801.48 L1135.50 801.89 L1136.08 802.30 L1136.66 802.71 L1137.23 803.12 L1137.80 803.54 L1138.36 803.96 L1138.91 804.38 L1139.46 804.80 L1140.01 805.23 L1140.54 805.66 L1141.07 806.10 L1141.59 806.54 L1142.11 806.98 L1142.62 807.43 L1143.13 807.87 L1143.62 808.33 L1144.11 808.79 L1144.60 809.25 L1145.08 809.71 L1145.55 810.18 L1146.01 810.66 L1146.47 811.14 L1146.92 811.62 L1147.37 812.11 L1147.80 812.60 L1148.23 813.10 L1148.66 813.60 L1149.08 814.11 L1149.49 814.62 L1149.89 815.14 L1150.29 815.67 L1150.68 816.20 L1151.06 816.73 L1151.44 817.27 L1151.81 817.82 L1152.17 818.37 L1152.53 818.93 L1152.88 819.50 L1153.22 820.07 L1153.56 820.65 L1153.89 821.23 L1154.21 821.82 L1154.53 822.42 L1154.84 823.03 L1155.14 823.64 L1155.44 824.26 L1155.73 824.89 L1156.01 825.53 L1156.29 826.17 L1156.56 826.82 L1156.83 827.48 L1157.09 828.15 L1157.34 828.82 L1157.59 829.50 L1157.83 830.20 L1158.07 830.90 L1158.30 831.61 L1158.52 832.33 L1158.74 833.06 L1158.96 833.79 L1159.16 834.54 L1159.37 835.30 L1159.56 836.07 L1159.75 836.84 L1159.94 837.63 L1160.12 838.43 L1160.29 839.24 L1160.46 840.06 L1160.63 840.89 L1160.79 841.73 L1160.95 842.59 L1161.10 843.46 L1161.24 844.33 L1161.38 845.23 L1161.52 846.13 L1161.65 847.05 L1161.78 847.98 L1161.90 848.92 L1162.02 849.88 L1162.14 850.85 L1162.25 851.84 L1162.36 852.84 L1164.40 883.66 L1164.40 883.66 L1164.40 883.66 L1164.40 883.66 L1166.42 852.45 L1166.51 851.59 L1166.60 850.75 L1166.69 849.91 L1166.78 849.08 L1166.88 848.26 L1166.98 847.46 L1167.09 846.66 L1167.19 845.86 L1167.30 845.08 L1167.41 844.31 L1167.53 843.54 L1167.65 842.78 L1167.77 842.03 L1167.89 841.29 L1168.02 840.56 L1168.15 839.83 L1168.28 839.11 L1168.42 838.40 L1168.56 837.69 L1168.70 837.00 L1168.85 836.30 L1169.00 835.62 L1169.15 834.94 L1169.31 834.27 L1169.46 833.60 L1169.63 832.94 L1169.79 832.29 L1169.96 831.64 L1170.14 831.00 L1170.31 830.36 L1170.49 829.73 L1170.67 829.11 L1170.86 828.49 L1171.05 827.87 L1171.24 827.26 L1171.44 826.66 L1171.64 826.06 L1171.84 825.46 L1172.05 824.87 L1172.26 824.29 L1172.47 823.71 L1172.69 823.13 L1172.91 822.56 L1173.14 821.99 L1173.37 821.43 L1173.60 820.87 L1173.83 820.32 L1174.07 819.77 L1174.31 819.22 L1174.56 818.68 L1174.81 818.14 L1175.06 817.60 L1175.31 817.07 L1175.57 816.54 L1175.83 816.01 L1176.10 815.49 L1176.37 814.97 L1176.64 814.46 L1176.91 813.95 L1177.19 813.44 L1177.47 812.93 L1177.76 812.43 L1178.04 811.93 L1178.33 811.43 L1178.63 810.93 L1178.93 810.44 L1179.22 809.95 L1179.53 809.46 L1179.83 808.98 L1180.14 808.50 L1180.45 808.02 L1180.77 807.54 L1181.08 807.06 L1181.40 806.59 L1181.72 806.12 L1182.05 805.65 L1182.37 805.18 L1182.70 804.72 L1183.03 804.25 L1183.37 803.79 L1183.70 803.33 L1184.04 802.87 L1184.38 802.41 L1184.72 801.96 L1185.07 801.50 L1185.41 801.05 L1185.76 800.60 L1186.11 800.15 L1186.46 799.70 L1186.82 799.25 L1187.17 798.80 L1187.53 798.36 L1187.89 797.91 L1188.24 797.47 L1188.60 797.02 L1188.97 796.58 L1189.33 796.14 L1189.69 795.70 L1190.06 795.26 L1190.42 794.82 L1190.79 794.38 L1191.16 793.94 L1191.53 793.50 L1191.90 793.06 L1192.27 792.63 L1192.64 792.19 L1193.01 791.75 L1193.38 791.31 L1193.75 790.87 L1194.12 790.44 L1194.49 790.00 L1194.86 789.56 L1195.23 789.12 L1195.60 788.69 L1195.97 788.25 L1196.35 787.81 L1196.72 787.37 L1197.08 786.93 L1197.45 786.49 L1197.82 786.05 L1198.19 785.61 L1198.56 785.17 L1198.92 784.72 L1199.29 784.28 L1199.65 783.84 L1200.01 783.39 L1200.38 782.95 L1200.74 782.50 L1201.10 782.05 L1201.45 781.60 L1201.81 781.15 L1202.17 780.70 L1202.52 780.25 L1202.87 779.79 L1203.22 779.34 L1203.57 778.88 L1203.91 778.42 L1204.26 777.96 L1204.60 777.50 L1204.94 777.04 L1205.28 776.57 L1205.62 776.11 L1205.95 775.64 L1206.28 775.17 L1206.61 774.70 L1206.94 774.22 L1207.26 773.75 L1207.58 773.27 L1207.90 772.79 L1208.22 772.30 L1208.53 771.82 L1208.84 771.33 L1209.15 770.84 L1209.45 770.35 L1209.76 769.86 L1210.06 769.36 L1210.35 768.86 L1210.65 768.36 L1210.94 767.85 L1211.22 767.34 L1211.51 766.83 L1211.79 766.32 L1212.07 765.80 L1212.34 765.28 L1212.61 764.75 L1212.88 764.23 L1213.15 763.70 L1213.41 763.16 L1213.67 762.63 L1213.92 762.09 L1214.18 761.54 L1214.42 760.99 L1214.67 760.44 L1214.91 759.89 L1215.15 759.33 L1215.38 758.77 L1215.62 758.20 L1215.84 757.63 L1216.07 757.05 L1216.29 756.47 L1216.51 755.89 L1216.72 755.30 L1216.93 754.71 L1217.14 754.11 L1217.34 753.51 L1217.54 752.90 L1217.74 752.29 L1217.93 751.67 L1218.12 751.05 L1218.31 750.42 L1218.49 749.79 L1218.67 749.15 L1218.85 748.51 L1219.02 747.86 L1219.19 747.20 L1219.35 746.54 L1219.52 745.87 L1219.68 745.20 L1219.83 744.52 L1219.98 743.84 L1220.13 743.15 L1220.28 742.45 L1220.42 741.74 L1220.56 741.03 L1220.70 740.31 L1220.83 739.59 L1220.96 738.86 L1221.09 738.12 L1221.21 737.37 L1221.33 736.61 L1221.45 735.85 L1221.57 735.08 L1221.68 734.30 L1221.79 733.51 L1221.90 732.72 L1222.00 731.91 L1222.10 731.10 L1222.20 730.27 L1222.29 729.44 L1222.39 728.60 L1222.48 727.75 L1222.56 726.89 L1222.65 726.02 L1222.73 725.13 L1222.81 724.24 L1222.89 723.34 L1222.96 722.42 L1223.03 721.50 L1223.10 720.56 L1223.17 719.61 L1223.24 718.65 L1223.30 717.67 L1223.36 716.69 L1223.42 715.69 L1223.48 714.67 L1223.53 713.64 L1223.59 712.60 L1223.64 711.54 L1223.69 710.47 L1223.73 709.38 L1223.78 708.28 L1223.82 707.16 L1223.86 706.02 L1223.90 704.86 L1223.94 703.69 L1223.98 702.50 L1224.02 701.29 L1224.05 700.06 L1224.08 698.81 L1224.11 697.54 L1224.14 696.24 L1224.17 694.93 L1224.20 693.59 L1224.22 692.22 L1224.25 690.84 L1224.27 689.42 L1224.29 687.98 L1224.31 686.52 L1224.33 685.02 L1224.35 683.49 L1224.37 681.94 L1224.38 680.35 L1224.40 678.73 L1224.41 677.07 L1224.43 675.38 L1224.44 673.64 L1224.45 671.87 L1224.46 670.06 L1224.47 668.20 L1224.48 666.30 L1224.49 664.35 L1224.50 662.36 L1224.51 660.30 L1224.52 658.20 L1224.52 656.03 L1224.53 653.80 L1224.53 651.51 L1224.54 649.15 L1224.54 646.71 L1224.55 644.20 L1224.55 641.60 L1224.56 638.91 L1224.56 636.13 L1224.56 633.25 L1224.57 630.26 L1224.57 627.15 L1224.57 623.91 L1224.57 620.53 L1224.57 617.00 L1224.57 613.31 L1224.58 609.44 L1224.58 605.36 L1224.58 601.07 L1224.58 596.53 L1224.58 591.71 L1224.58 586.58 L1224.58 581.10 L1224.58 575.21 L1224.58 568.84 L1224.58 561.92 L1224.58 554.34 L1224.58 545.96 L1224.58 536.59 L1224.58 525.97 L1224.58 513.71 L1224.58 499.20 L1224.58 481.45 L1224.58 458.56 L1224.58 426.30 L1224.58 371.14 L1224.58 263.69 L1224.58 488.49 L1224.58 529.86 L1224.58 554.06 L1224.58 571.23 L1224.58 584.54 L1224.58 595.42 L1224.59 604.62 L1224.59 612.59 L1224.59 619.62 L1224.59 625.91 L1224.60 631.59 L1224.60 636.79 L1224.61 641.56 L1224.62 645.98 L1224.62 650.10 L1224.63 653.95 L1224.64 657.56 L1224.66 660.97 L1224.67 664.20 L1224.68 667.25 L1224.70 670.16 L1224.72 672.94 L1224.74 675.58 L1224.76 678.12 L1224.78 680.55 L1224.81 682.89 L1224.83 685.13 L1224.86 687.30 L1224.90 689.39 L1224.93 691.40 L1224.97 693.35 L1225.00 695.24 L1225.04 697.07 L1225.09 698.84 L1225.13 700.56 L1225.18 702.23 L1225.23 703.86 L1225.29 705.44 L1225.35 706.97 L1225.41 708.47 L1225.47 709.93 L1225.54 711.36 L1225.61 712.75 L1225.68 714.11 L1225.76 715.43 L1225.84 716.73 L1225.92 717.99 L1226.01 719.23 L1226.10 720.44 L1226.19 721.63 L1226.29 722.79 L1226.39 723.93 L1226.50 725.05 L1226.61 726.14 L1226.72 727.21 L1226.84 728.27 L1226.97 729.30 L1227.09 730.31 L1227.23 731.31 L1227.36 732.28 L1227.50 733.24 L1227.65 734.18 L1227.80 735.11 L1227.96 736.02 L1228.12 736.91 L1228.28 737.79 L1228.46 738.66 L1228.63 739.51 L1228.81 740.35 L1229.00 741.17 L1229.19 741.98 L1229.39 742.78 L1229.59 743.56 L1229.80 744.34 L1230.02 745.10 L1230.24 745.85 L1230.46 746.59 L1230.69 747.32 L1230.93 748.03 L1231.18 748.74 L1231.43 749.44 L1231.68 750.13 L1231.95 750.80 L1232.22 751.47 L1232.49 752.13 L1232.77 752.78 L1233.06 753.42 L1233.36 754.05 L1233.66 754.67 L1233.97 755.29 L1234.29 755.90 L1234.61 756.49 L1234.94 757.09 L1235.28 757.67 L1235.62 758.24 L1235.98 758.81 L1236.34 759.37 L1236.70 759.93 L1237.08 760.47 L1237.46 761.01 L1237.85 761.55 L1238.25 762.07 L1238.66 762.60 L1239.07 763.11 L1239.49 763.62 L1239.92 764.12 L1240.36 764.62 L1240.81 765.11 L1241.26 765.59 L1241.72 766.07 L1242.20 766.54 L1242.68 767.01 L1243.17 767.47 L1243.66 767.93 L1244.17 768.38 L1244.69 768.83 L1245.21 769.27 L1245.74 769.71 L1246.29 770.14 L1246.84 770.57 L1247.40 770.99 L1247.97 771.41 L1248.55 771.83 L1249.14 772.24 L1249.74 772.65 L1250.35 773.05 L1250.96 773.45 L1251.59 773.84 L1252.23 774.23 L1252.88 774.62 L1253.54 775.00 L1254.20 775.38 L1254.88 775.75 L1255.57 776.12 L1256.27 776.49 L1256.98 776.86 L1257.70 777.22 L1258.43 777.58 L1259.17 777.93 L1259.92 778.28 L1260.69 778.63 L1261.46 778.98 L1262.25 779.32 L1263.04 779.66 L1263.85 780.00 L1264.67 780.33 L1265.49 780.67 L1266.34 780.99 L1267.19 781.32 L1268.05 781.64 L1268.93 781.97 L1269.81 782.29 L1270.71 782.60 L1271.62 782.92 L1272.54 783.23 L1273.48 783.54 L1274.43 783.84 L1275.38 784.15 L1276.35 784.45 L1277.34 784.75 L1278.33 785.05 L1279.34 785.35 L1280.36 785.65 L1281.39 785.94 L1282.44 786.23 L1283.50 786.52 L1284.57 786.81 L1285.65 787.10 L1286.75 787.38 L1287.86 787.66 L1288.98 787.95 L1290.12 788.23 L1291.27 788.50 L1292.43 788.78 L1293.61 789.06 L1294.80 789.33 L1296.00 789.61 L1297.22 789.88 L1298.45 790.15 L1299.70 790.42 L1300.96 790.69 L1302.23 790.95 L1303.52 791.22 L1304.82 791.48 L1306.13 791.75 L1307.46 792.01 L1308.81 792.27 L1310.16 792.53 L1311.54 792.79 L1312.93 793.05 L1314.33 793.31 L1315.74 793.57 L1317.18 793.82 L1318.62 794.08 L1320.08 794.33 L1321.56 794.59 L1323.05 794.84 L1324.56 795.10 L1326.08 795.35 L1327.62 795.60 L1329.17 795.85 L1330.74 796.10 L1332.33 796.35 L1333.93 796.60 L1335.54 796.85 L1337.18 797.10 L1338.82 797.35 L1340.49 797.59 L1342.17 797.84 L1343.86 798.09 L1345.58 798.34 L1347.30 798.58 L1349.05 798.83 L1350.81 799.07 L1352.59 799.32 L1354.38 799.56 L1356.19 799.81 L1358.02 800.06 L1359.87 800.30 L1361.73 800.54 L1363.61 800.79 L1365.50 801.03 L1367.41 801.28 L1369.34 801.52 L1371.29 801.77 L1373.26 802.01 L1375.24 802.26 L1377.24 802.50 L1379.26 802.75 L1381.29 802.99 L1383.35 803.24 L1385.42 803.48 L1387.50 803.73 L1389.61 803.97 L1391.74 804.22 L1393.88 804.46 L1396.04 804.71 L1398.22 804.95 L1400.42 805.20 L1402.63 805.45 L1404.87 805.69 L1407.12 805.94 L1409.39 806.19 L1411.69 806.44 L1414.00 806.68 L1416.32 806.93 L1418.67 807.18 L1421.04 807.43 L1423.43 807.68 L1425.83 807.93 L1428.26 808.18 L1430.70 808.43 L1433.16 808.69 L1435.65 808.94 L1438.15 809.19 L1440.67 809.44 L1443.21 809.70 L1445.78 809.95 L1448.36 810.21 L1450.96 810.46 L1453.58 810.72 L1456.22 810.98 L1458.89 811.23 L1461.57 811.49 L1464.27 811.75 L1467.00 812.01 L1469.74 812.27 L1472.51 812.53 L1475.29 812.80 L1478.10 813.06 L1480.93 813.32 L1483.77 813.59 L1486.64 813.85 L1489.53 814.12 L1492.44 814.38 L1495.38 814.65 L1498.33 814.92 L1501.31 815.19 L1504.30 815.46 L1507.32 815.73 L1510.36 816.01 L1513.42 816.28 L1516.51 816.55 L1519.61 816.83 L1522.74 817.11 L1525.89 817.38 L1529.06 817.66 L1532.26 817.94 L1535.47 818.22 L1538.71 818.50 L1541.97 818.79 L1545.26 819.07 L1548.56 819.36 L1551.89 819.64 L1555.24 819.93 L1558.62 820.22 L1562.01 820.51 L1565.43 820.80 L1568.87 821.09 L1572.34 821.38 L1575.83 821.68 L1579.34 821.98 L1582.88 822.27 L1586.44 822.57 L1590.02 822.87 L1593.63 823.17 L1597.26 823.48 L1600.91 823.78 L1604.59 824.09 L1608.29 824.39 L1612.01 824.70 L1615.76 825.01 L1619.54 825.32 L1623.33 825.63 L1627.16 825.95 L1631.00 826.26 L1634.87 826.58 L1638.77 826.90 L1642.69 827.22 L1646.63 827.54 L1650.60 827.86 L1654.60 828.19 L1658.61 828.51 L1662.66 828.84 L1666.73 829.17 L1670.82 829.50 L1674.94 829.83 L1679.08 830.17 L1683.25 830.50 L1687.45 830.84 L1691.67 831.18 L1695.92 831.52 L1700.19 831.86 L1704.49 832.21 L1708.81 832.55 L1713.16 832.90 L1717.53 833.25 L1721.93 833.60 L1726.36 833.95 L1730.82 834.31 L1735.30 834.66 L1739.80 835.02 L1744.33 835.38 L1748.89 835.74 L1753.48 836.11 L1758.09 836.47 L1762.73 836.84 L1767.40 837.21 L1772.09 837.58 L1776.81 837.95 L1781.56 838.33 L1786.33 838.71 L1791.13 839.08 L1795.96 839.46 L1800.82 839.85 L1805.70 840.23 L1810.61 840.62 L1815.55 841.01 L1820.52 841.40 L1825.51 841.79 L1830.53 842.18 L1835.58 842.58 L1840.66 842.98 L1845.76 843.38 L1850.90 843.78 L1856.06 844.19 L1861.25 844.59 L1866.47 845.00 L1871.72 845.41 L1876.99 845.83 L1882.30 846.24 L1887.63 846.66 L1892.99 847.08 L1898.38 847.50 L1903.80 847.92 L1909.25 848.35 L1914.72 848.78 L1920.23 849.21 L1925.77 849.64 L1931.33 850.07 L1936.93 850.51 L1942.55 850.95 L1948.20 851.39 L1953.89 851.83 L1959.60 852.28 L1965.34 852.73 L1971.11 853.18 L1976.91 853.63 L1982.75 854.08 L1988.61 854.54 L1994.50 855.00 L2000.42 855.46 L2006.38 855.93 L2012.36 856.39 L2018.37 856.86 L2024.42 857.33 L2030.49 857.80 L2036.60 858.28 L2042.73 858.76 L2048.90 859.24" stroke="#55AC18"/>
</g>
<!-- arrows -->
<line x1="571.2" y1="658.3" x2="651.6" y2="801.8" stroke="#6f9238" stroke-width="1.8"/>
<path d="M662.6 823.6 L637.9 806.3 L651.6 801.8 L661.7 792.9 Z" fill="#6f9238"/>
<line x1="736.9" y1="609.1" x2="817.6" y2="753.4" stroke="#7a2ca2" stroke-width="1.8"/>
<path d="M827.8 774.4 L803.5 757.9 L817.6 753.4 L827.0 744.5 Z" fill="#7a2ca2"/>
<line x1="888.3" y1="567.0" x2="968.7" y2="711.8" stroke="#ffc000" stroke-width="1.8"/>
<path d="M979.4 732.5 L954.6 716.3 L968.7 711.8 L978.9 702.9 Z" fill="#ffc000"/>
<line x1="1423.8" y1="513.3" x2="1372.2" y2="698.3" stroke="#ff6a00" stroke-width="1.8"/>
<path d="M1366.5 720.2 L1360.5 691.3 L1372.2 698.3 L1386.7 698.3 Z" fill="#ff6a00"/>
<line x1="1649.9" y1="563.8" x2="1511.7" y2="702.6" stroke="#0070c0" stroke-width="1.8"/>
<path d="M1494.6 719.3 L1504.5 691.3 L1511.7 702.6 L1523.4 709.9 Z" fill="#0070c0"/>
<!-- text -->
<text transform="matrix(0.4234 0 0 0.4311 124.57 76.04)" font-size="200">300</text>
<text transform="matrix(0.4251 0 0 0.4311 124.07 305.64)" font-size="200">200</text>
<text transform="matrix(0.4153 0 0 0.4311 126.92 534.19)" font-size="200">100</text>
<text transform="matrix(0.4333 0 0 0.4311 208.53 763.84)" font-size="200">0</text>
<text transform="matrix(0.4157 0 0 0.4311 126.82 992.14)" font-size="200">100</text>
<text transform="matrix(0.3570 0 0 0.3100 92.33 982.86)" font-size="200">−</text>
<text transform="matrix(0.4362 0 0 0.4333 215.55 1100.23)" font-size="200">10</text>
<text transform="matrix(0.3650 0 0 0.3417 298.61 1061.10)" font-size="200">2</text>
<text transform="matrix(0.4362 0 0 0.4333 805.21 1100.23)" font-size="200">10</text>
<text transform="matrix(0.3561 0 0 0.3440 888.31 1061.41)" font-size="200">3</text>
<text transform="matrix(0.4362 0 0 0.4333 1394.88 1100.23)" font-size="200">10</text>
<text transform="matrix(0.3376 0 0 0.3492 1479.58 1061.75)" font-size="200">4</text>
<text transform="matrix(0.4362 0 0 0.4333 1984.55 1100.23)" font-size="200">10</text>
<text transform="matrix(0.3600 0 0 0.3391 2066.78 1061.22)" font-size="200">5</text>
<text transform="matrix(0.4500 0 0 0.4691 305.35 640.20)" font-size="200" font-style="italic">η</text>
<text transform="matrix(0.4065 0 0 0.2880 349.49 629.86)" font-size="200" stroke="#000" stroke-width="2.3" vector-effect="non-scaling-stroke">=</text>
<text transform="matrix(0.4137 0 0 0.4272 395.09 636.62)" font-size="200">0.001</text>
<text transform="matrix(0.4500 0 0 0.4691 549.35 573.30)" font-size="200" font-style="italic">η</text>
<text transform="matrix(0.4065 0 0 0.2880 593.49 562.96)" font-size="200" stroke="#000" stroke-width="2.3" vector-effect="non-scaling-stroke">=</text>
<text transform="matrix(0.4187 0 0 0.4272 639.05 569.72)" font-size="200">0.005</text>
<text transform="matrix(0.4500 0 0 0.4691 786.10 491.10)" font-size="200" font-style="italic">η</text>
<text transform="matrix(0.4065 0 0 0.2880 830.24 480.76)" font-size="200" stroke="#000" stroke-width="2.3" vector-effect="non-scaling-stroke">=</text>
<text transform="matrix(0.4123 0 0 0.4272 875.85 487.52)" font-size="200">0.01</text>
<text transform="matrix(0.4500 0 0 0.4691 1279.35 478.20)" font-size="200" font-style="italic">η</text>
<text transform="matrix(0.4065 0 0 0.2880 1323.49 467.86)" font-size="200" stroke="#000" stroke-width="2.3" vector-effect="non-scaling-stroke">=</text>
<text transform="matrix(0.4210 0 0 0.4272 1369.03 474.62)" font-size="200">0.05</text>
<text transform="matrix(0.4500 0 0 0.4691 1609.65 526.40)" font-size="200" font-style="italic">η</text>
<text transform="matrix(0.4065 0 0 0.2880 1653.79 516.06)" font-size="200" stroke="#000" stroke-width="2.3" vector-effect="non-scaling-stroke">=</text>
<text transform="matrix(0.4065 0 0 0.4272 1699.45 522.82)" font-size="200">0.1</text>
<text transform="matrix(0.4136 0 0 0.3977 936.12 1194)" font-size="200">Frequency(Hz)</text>
<text transform="translate(89.3 797.73) rotate(-90) scale(0.4548 0.4408)" font-size="200">Magnitude(dB)</text>
</svg>
</body>
</html>
